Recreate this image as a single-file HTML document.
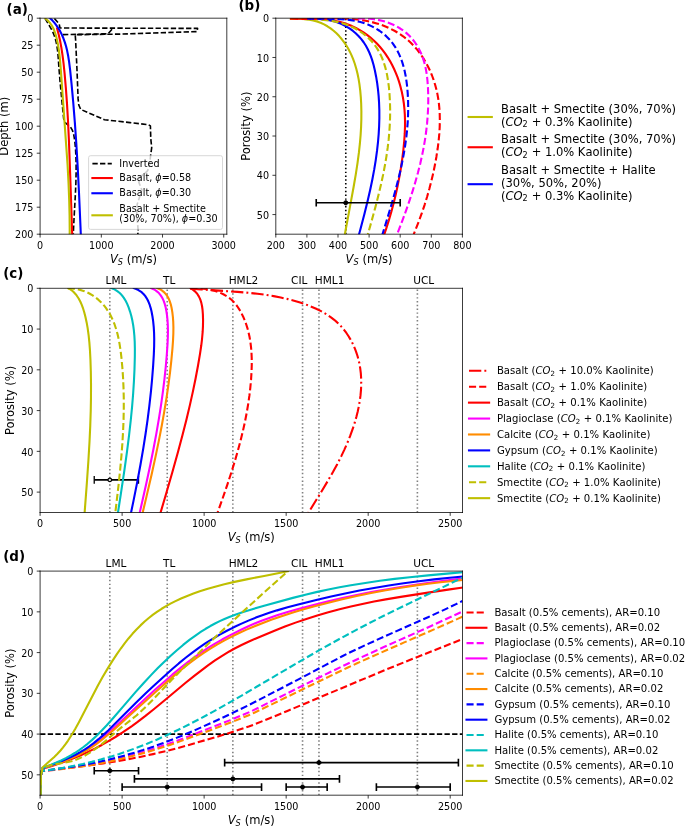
<!DOCTYPE html>
<html><head><meta charset="utf-8"><title>Figure</title>
<style>html,body{margin:0;padding:0;background:#fff}svg{display:block}</style></head>
<body>
<svg width="685" height="826" viewBox="0 0 685 826">
 <defs>
  <style type="text/css">*{stroke-linejoin: round; stroke-linecap: butt}</style>
 </defs>
 <g id="figure_1">
  <g id="patch_1">
   <path d="M 0 826 
L 685 826 
L 685 0 
L 0 0 
z
" style="fill: #ffffff"/>
  </g>
  <g id="axes_1">
   <g id="patch_2">
    <path d="M 40.1 234.2 
L 226.8 234.2 
L 226.8 18.2 
L 40.1 18.2 
z
" style="fill: #ffffff"/>
   </g>
   <g id="matplotlib.axis_1">
    <g id="xtick_1">
     <g id="line2d_1">
      <g>
       <path d="M 0 0 L 0 3.36" transform="translate(40.1 234.2)" style="stroke: #000000; stroke-width: 0.768"/>
      </g>
     </g>
     <g id="text_1">
      <text style="font-size: 9.6px; font-family: 'DejaVu Sans', 'Liberation Sans', sans-serif; text-anchor: middle" x="40.1" y="249.114" transform="rotate(-0 40.1 249.114)">0</text>
     </g>
    </g>
    <g id="xtick_2">
     <g id="line2d_2">
      <g>
       <path d="M 0 0 L 0 3.36" transform="translate(101.313 234.2)" style="stroke: #000000; stroke-width: 0.768"/>
      </g>
     </g>
     <g id="text_2">
      <text style="font-size: 9.6px; font-family: 'DejaVu Sans', 'Liberation Sans', sans-serif; text-anchor: middle" x="101.313" y="249.114" transform="rotate(-0 101.313 249.114)">1000</text>
     </g>
    </g>
    <g id="xtick_3">
     <g id="line2d_3">
      <g>
       <path d="M 0 0 L 0 3.36" transform="translate(162.526 234.2)" style="stroke: #000000; stroke-width: 0.768"/>
      </g>
     </g>
     <g id="text_3">
      <text style="font-size: 9.6px; font-family: 'DejaVu Sans', 'Liberation Sans', sans-serif; text-anchor: middle" x="162.526" y="249.114" transform="rotate(-0 162.526 249.114)">2000</text>
     </g>
    </g>
    <g id="xtick_4">
     <g id="line2d_4">
      <g>
       <path d="M 0 0 L 0 3.36" transform="translate(223.739 234.2)" style="stroke: #000000; stroke-width: 0.768"/>
      </g>
     </g>
     <g id="text_4">
      <text style="font-size: 9.6px; font-family: 'DejaVu Sans', 'Liberation Sans', sans-serif; text-anchor: middle" x="223.739" y="249.114" transform="rotate(-0 223.739 249.114)">3000</text>
     </g>
    </g>
    <g id="text_5">
     <g transform="translate(109.891 263.504)">
      <text><tspan x="0.00" y="-0.89" style="font-style: oblique; font-size: 11.52px; font-family: 'DejaVu Sans', 'Liberation Sans', sans-serif">V</tspan><tspan x="7.87" y="1.08" style="font-style: oblique; font-size: 8.064px; font-family: 'DejaVu Sans', 'Liberation Sans', sans-serif">S</tspan><tspan x="13.30 16.96 21.45 32.65 36.52 42.52" y="-0.89" style="font-size: 11.52px; font-family: 'DejaVu Sans', 'Liberation Sans', sans-serif"> (m/s)</tspan></text>
     </g>
    </g>
   </g>
   <g id="matplotlib.axis_2">
    <g id="ytick_1">
     <g id="line2d_5">
      <g>
       <path d="M 0 0 L -3.36 0" transform="translate(40.1 18.2)" style="stroke: #000000; stroke-width: 0.768"/>
      </g>
     </g>
     <g id="text_6">
      <text style="font-size: 9.6px; font-family: 'DejaVu Sans', 'Liberation Sans', sans-serif; text-anchor: end" x="33.38" y="22.347" transform="rotate(-0 33.38 22.347)">0</text>
     </g>
    </g>
    <g id="ytick_2">
     <g id="line2d_6">
      <g>
       <path d="M 0 0 L -3.36 0" transform="translate(40.1 45.2)" style="stroke: #000000; stroke-width: 0.768"/>
      </g>
     </g>
     <g id="text_7">
      <text style="font-size: 9.6px; font-family: 'DejaVu Sans', 'Liberation Sans', sans-serif; text-anchor: end" x="33.38" y="49.347" transform="rotate(-0 33.38 49.347)">25</text>
     </g>
    </g>
    <g id="ytick_3">
     <g id="line2d_7">
      <g>
       <path d="M 0 0 L -3.36 0" transform="translate(40.1 72.2)" style="stroke: #000000; stroke-width: 0.768"/>
      </g>
     </g>
     <g id="text_8">
      <text style="font-size: 9.6px; font-family: 'DejaVu Sans', 'Liberation Sans', sans-serif; text-anchor: end" x="33.38" y="76.347" transform="rotate(-0 33.38 76.347)">50</text>
     </g>
    </g>
    <g id="ytick_4">
     <g id="line2d_8">
      <g>
       <path d="M 0 0 L -3.36 0" transform="translate(40.1 99.2)" style="stroke: #000000; stroke-width: 0.768"/>
      </g>
     </g>
     <g id="text_9">
      <text style="font-size: 9.6px; font-family: 'DejaVu Sans', 'Liberation Sans', sans-serif; text-anchor: end" x="33.38" y="103.347" transform="rotate(-0 33.38 103.347)">75</text>
     </g>
    </g>
    <g id="ytick_5">
     <g id="line2d_9">
      <g>
       <path d="M 0 0 L -3.36 0" transform="translate(40.1 126.2)" style="stroke: #000000; stroke-width: 0.768"/>
      </g>
     </g>
     <g id="text_10">
      <text style="font-size: 9.6px; font-family: 'DejaVu Sans', 'Liberation Sans', sans-serif; text-anchor: end" x="33.38" y="130.347" transform="rotate(-0 33.38 130.347)">100</text>
     </g>
    </g>
    <g id="ytick_6">
     <g id="line2d_10">
      <g>
       <path d="M 0 0 L -3.36 0" transform="translate(40.1 153.2)" style="stroke: #000000; stroke-width: 0.768"/>
      </g>
     </g>
     <g id="text_11">
      <text style="font-size: 9.6px; font-family: 'DejaVu Sans', 'Liberation Sans', sans-serif; text-anchor: end" x="33.38" y="157.347" transform="rotate(-0 33.38 157.347)">125</text>
     </g>
    </g>
    <g id="ytick_7">
     <g id="line2d_11">
      <g>
       <path d="M 0 0 L -3.36 0" transform="translate(40.1 180.2)" style="stroke: #000000; stroke-width: 0.768"/>
      </g>
     </g>
     <g id="text_12">
      <text style="font-size: 9.6px; font-family: 'DejaVu Sans', 'Liberation Sans', sans-serif; text-anchor: end" x="33.38" y="184.347" transform="rotate(-0 33.38 184.347)">150</text>
     </g>
    </g>
    <g id="ytick_8">
     <g id="line2d_12">
      <g>
       <path d="M 0 0 L -3.36 0" transform="translate(40.1 207.2)" style="stroke: #000000; stroke-width: 0.768"/>
      </g>
     </g>
     <g id="text_13">
      <text style="font-size: 9.6px; font-family: 'DejaVu Sans', 'Liberation Sans', sans-serif; text-anchor: end" x="33.38" y="211.347" transform="rotate(-0 33.38 211.347)">175</text>
     </g>
    </g>
    <g id="ytick_9">
     <g id="line2d_13">
      <g>
       <path d="M 0 0 L -3.36 0" transform="translate(40.1 234.2)" style="stroke: #000000; stroke-width: 0.768"/>
      </g>
     </g>
     <g id="text_14">
      <text style="font-size: 9.6px; font-family: 'DejaVu Sans', 'Liberation Sans', sans-serif; text-anchor: end" x="33.38" y="238.347" transform="rotate(-0 33.38 238.347)">200</text>
     </g>
    </g>
    <g id="text_15">
     <text style="font-size: 11.52px; font-family: 'DejaVu Sans', 'Liberation Sans', sans-serif; text-anchor: middle" x="8.220" y="126.2" transform="rotate(-90 8.220 126.2)">Depth (m)</text>
    </g>
   </g>
   <g id="line2d_14">
    <path d="M 54.4 18.5 
L 59.2 23.9 
L 59.9 27.7 
L 60.4 28 
L 197.6 28.4 
L 197 31.6 
L 120 34.1 
L 75.2 34.7 
L 75.6 40 
L 77 70 
L 78.1 98.9 
L 78.8 105 
L 80.7 109.4 
L 104.4 119.7 
L 130 122.6 
L 148.5 124.8 
L 150.4 125.9 
L 150.8 138.9 
L 151.7 147.6 
L 150.5 156.3 
L 149.1 168 
L 146.9 171.6 
L 140.3 176.7 
L 138.9 182.5 
L 141.8 189.8 
L 139.6 197 
L 137.2 204.3 
L 136.7 214.5 
L 138.2 230.5 
L 137.8 234.2 
" clip-path="url(#p435b3e391e)" style="fill: none; stroke-dasharray: 5.33,2.3; stroke-dashoffset: 0; stroke: #000000; stroke-width: 1.62"/>
   </g>
   <g id="line2d_15">
    <path d="M 63 34.6 
L 108 33.8 
L 112.6 28.6 
" clip-path="url(#p435b3e391e)" style="fill: none; stroke-dasharray: 5.33,2.3; stroke-dashoffset: 0; stroke: #000000; stroke-width: 1.62"/>
   </g>
   <g id="line2d_16">
    <path d="M 45.172 18.514 
L 47.385 22.395 
L 51.354 29.185 
L 52.861 32.166 
L 54.139 35.225 
L 55.190 38.359 
L 56.042 41.558 
L 56.917 45.910 
L 57.551 50.339 
L 58.105 55.949 
L 58.977 68.377 
L 60.085 81.834 
L 62.101 103.035 
L 63.670 118.657 
L 64.226 120.681 
L 64.647 121.603 
L 65.190 122.446 
L 66.625 123.916 
L 69.927 126.654 
L 71.266 128.288 
L 72.297 130.155 
L 73.077 132.206 
L 73.659 134.387 
L 74.283 137.792 
L 75.023 143.486 
L 75.532 149.121 
L 75.905 155.839 
L 76.109 163.665 
L 76.111 172.616 
L 75.877 182.692 
L 75.349 195.013 
L 74.038 218.534 
L 73.340 233.081 
L 73.298 234.199 
L 73.298 234.199 
" clip-path="url(#p435b3e391e)" style="fill: none; stroke-dasharray: 5.33,2.3; stroke-dashoffset: 0; stroke: #000000; stroke-width: 1.62"/>
   </g>
   <g id="line2d_17">
    <path d="M 57.097 28.462 
L 58.678 34.469 
L 60.034 40.522 
L 61.366 47.635 
L 62.472 54.793 
L 63.517 63.016 
L 64.590 73.336 
L 65.850 87.819 
L 66.974 103.363 
L 67.955 119.966 
L 68.890 139.704 
L 69.789 163.612 
L 72.207 234.176 
L 72.207 234.176 
" clip-path="url(#p435b3e391e)" style="fill: none; stroke: #ff0000; stroke-width: 2.1; stroke-linecap: square"/>
   </g>
   <g id="line2d_18">
    <path d="M 50.072 18.154 
L 52.511 20.613 
L 54.732 23.174 
L 56.748 25.829 
L 58.571 28.573 
L 60.212 31.400 
L 61.684 34.305 
L 63.403 38.287 
L 64.870 42.382 
L 66.113 46.574 
L 67.161 50.851 
L 68.238 56.294 
L 69.109 61.819 
L 70.085 69.638 
L 71.475 83.087 
L 73.219 102.058 
L 74.822 122.060 
L 76.279 143.116 
L 77.659 166.365 
L 79.009 192.969 
L 80.522 227.510 
L 80.799 234.231 
L 80.799 234.231 
" clip-path="url(#p435b3e391e)" style="fill: none; stroke: #0000ff; stroke-width: 2.1; stroke-linecap: square"/>
   </g>
   <g id="line2d_19">
    <path d="M 45.063 18.317 
L 46.913 19.791 
L 48.558 21.372 
L 50.014 23.052 
L 51.296 24.820 
L 52.422 26.667 
L 53.852 29.565 
L 55.020 32.587 
L 55.982 35.702 
L 57.037 39.942 
L 58.113 45.315 
L 58.967 50.752 
L 59.761 57.341 
L 60.462 65.089 
L 61.741 82.861 
L 67.544 164.503 
L 68.532 183.243 
L 69.185 199.814 
L 69.568 215.323 
L 69.695 229.774 
L 69.686 234.232 
L 69.686 234.232 
" clip-path="url(#p435b3e391e)" style="fill: none; stroke: #bfbf00; stroke-width: 2.1; stroke-linecap: square"/>
   </g>
   <g id="patch_3">
    <path d="M 40.1 234.2 
L 40.1 18.2 
" style="fill: none; stroke: #000000; stroke-width: 0.768; stroke-linejoin: miter; stroke-linecap: square"/>
   </g>
   <g id="patch_4">
    <path d="M 226.8 234.2 
L 226.8 18.2 
" style="fill: none; stroke: #000000; stroke-width: 0.768; stroke-linejoin: miter; stroke-linecap: square"/>
   </g>
   <g id="patch_5">
    <path d="M 40.1 234.2 
L 226.8 234.2 
" style="fill: none; stroke: #000000; stroke-width: 0.768; stroke-linejoin: miter; stroke-linecap: square"/>
   </g>
   <g id="patch_6">
    <path d="M 40.1 18.2 
L 226.8 18.2 
" style="fill: none; stroke: #000000; stroke-width: 0.768; stroke-linejoin: miter; stroke-linecap: square"/>
   </g>
  </g>
  <g id="axes_2">
   <g id="patch_7">
    <path d="M 275.8 234.2 
L 462.4 234.2 
L 462.4 18.2 
L 275.8 18.2 
z
" style="fill: #ffffff"/>
   </g>
   <g id="matplotlib.axis_3">
    <g id="xtick_5">
     <g id="line2d_20">
      <g>
       <path d="M 0 0 L 0 3.36" transform="translate(275.8 234.2)" style="stroke: #000000; stroke-width: 0.768"/>
      </g>
     </g>
     <g id="text_16">
      <text style="font-size: 9.6px; font-family: 'DejaVu Sans', 'Liberation Sans', sans-serif; text-anchor: middle" x="275.8" y="249.114" transform="rotate(-0 275.8 249.114)">200</text>
     </g>
    </g>
    <g id="xtick_6">
     <g id="line2d_21">
      <g>
       <path d="M 0 0 L 0 3.36" transform="translate(306.9 234.2)" style="stroke: #000000; stroke-width: 0.768"/>
      </g>
     </g>
     <g id="text_17">
      <text style="font-size: 9.6px; font-family: 'DejaVu Sans', 'Liberation Sans', sans-serif; text-anchor: middle" x="306.9" y="249.114" transform="rotate(-0 306.9 249.114)">300</text>
     </g>
    </g>
    <g id="xtick_7">
     <g id="line2d_22">
      <g>
       <path d="M 0 0 L 0 3.36" transform="translate(338 234.2)" style="stroke: #000000; stroke-width: 0.768"/>
      </g>
     </g>
     <g id="text_18">
      <text style="font-size: 9.6px; font-family: 'DejaVu Sans', 'Liberation Sans', sans-serif; text-anchor: middle" x="338" y="249.114" transform="rotate(-0 338 249.114)">400</text>
     </g>
    </g>
    <g id="xtick_8">
     <g id="line2d_23">
      <g>
       <path d="M 0 0 L 0 3.36" transform="translate(369.1 234.2)" style="stroke: #000000; stroke-width: 0.768"/>
      </g>
     </g>
     <g id="text_19">
      <text style="font-size: 9.6px; font-family: 'DejaVu Sans', 'Liberation Sans', sans-serif; text-anchor: middle" x="369.1" y="249.114" transform="rotate(-0 369.1 249.114)">500</text>
     </g>
    </g>
    <g id="xtick_9">
     <g id="line2d_24">
      <g>
       <path d="M 0 0 L 0 3.36" transform="translate(400.2 234.2)" style="stroke: #000000; stroke-width: 0.768"/>
      </g>
     </g>
     <g id="text_20">
      <text style="font-size: 9.6px; font-family: 'DejaVu Sans', 'Liberation Sans', sans-serif; text-anchor: middle" x="400.2" y="249.114" transform="rotate(-0 400.2 249.114)">600</text>
     </g>
    </g>
    <g id="xtick_10">
     <g id="line2d_25">
      <g>
       <path d="M 0 0 L 0 3.36" transform="translate(431.3 234.2)" style="stroke: #000000; stroke-width: 0.768"/>
      </g>
     </g>
     <g id="text_21">
      <text style="font-size: 9.6px; font-family: 'DejaVu Sans', 'Liberation Sans', sans-serif; text-anchor: middle" x="431.3" y="249.114" transform="rotate(-0 431.3 249.114)">700</text>
     </g>
    </g>
    <g id="xtick_11">
     <g id="line2d_26">
      <g>
       <path d="M 0 0 L 0 3.36" transform="translate(462.4 234.2)" style="stroke: #000000; stroke-width: 0.768"/>
      </g>
     </g>
     <g id="text_22">
      <text style="font-size: 9.6px; font-family: 'DejaVu Sans', 'Liberation Sans', sans-serif; text-anchor: middle" x="462.4" y="249.114" transform="rotate(-0 462.4 249.114)">800</text>
     </g>
    </g>
    <g id="text_23">
     <g transform="translate(345.541 263.504)">
      <text><tspan x="0.00" y="-0.89" style="font-style: oblique; font-size: 11.52px; font-family: 'DejaVu Sans', 'Liberation Sans', sans-serif">V</tspan><tspan x="7.87" y="1.08" style="font-style: oblique; font-size: 8.064px; font-family: 'DejaVu Sans', 'Liberation Sans', sans-serif">S</tspan><tspan x="13.30 16.96 21.45 32.65 36.52 42.52" y="-0.89" style="font-size: 11.52px; font-family: 'DejaVu Sans', 'Liberation Sans', sans-serif"> (m/s)</tspan></text>
     </g>
    </g>
   </g>
   <g id="matplotlib.axis_4">
    <g id="ytick_10">
     <g id="line2d_27">
      <g>
       <path d="M 0 0 L -3.36 0" transform="translate(275.8 18.2)" style="stroke: #000000; stroke-width: 0.768"/>
      </g>
     </g>
     <g id="text_24">
      <text style="font-size: 9.6px; font-family: 'DejaVu Sans', 'Liberation Sans', sans-serif; text-anchor: end" x="269.08" y="22.347" transform="rotate(-0 269.08 22.347)">0</text>
     </g>
    </g>
    <g id="ytick_11">
     <g id="line2d_28">
      <g>
       <path d="M 0 0 L -3.36 0" transform="translate(275.8 57.472)" style="stroke: #000000; stroke-width: 0.768"/>
      </g>
     </g>
     <g id="text_25">
      <text style="font-size: 9.6px; font-family: 'DejaVu Sans', 'Liberation Sans', sans-serif; text-anchor: end" x="269.08" y="61.619" transform="rotate(-0 269.08 61.619)">10</text>
     </g>
    </g>
    <g id="ytick_12">
     <g id="line2d_29">
      <g>
       <path d="M 0 0 L -3.36 0" transform="translate(275.8 96.745)" style="stroke: #000000; stroke-width: 0.768"/>
      </g>
     </g>
     <g id="text_26">
      <text style="font-size: 9.6px; font-family: 'DejaVu Sans', 'Liberation Sans', sans-serif; text-anchor: end" x="269.08" y="100.892" transform="rotate(-0 269.08 100.892)">20</text>
     </g>
    </g>
    <g id="ytick_13">
     <g id="line2d_30">
      <g>
       <path d="M 0 0 L -3.36 0" transform="translate(275.8 136.018)" style="stroke: #000000; stroke-width: 0.768"/>
      </g>
     </g>
     <g id="text_27">
      <text style="font-size: 9.6px; font-family: 'DejaVu Sans', 'Liberation Sans', sans-serif; text-anchor: end" x="269.08" y="140.165" transform="rotate(-0 269.08 140.165)">30</text>
     </g>
    </g>
    <g id="ytick_14">
     <g id="line2d_31">
      <g>
       <path d="M 0 0 L -3.36 0" transform="translate(275.8 175.290)" style="stroke: #000000; stroke-width: 0.768"/>
      </g>
     </g>
     <g id="text_28">
      <text style="font-size: 9.6px; font-family: 'DejaVu Sans', 'Liberation Sans', sans-serif; text-anchor: end" x="269.08" y="179.438" transform="rotate(-0 269.08 179.438)">40</text>
     </g>
    </g>
    <g id="ytick_15">
     <g id="line2d_32">
      <g>
       <path d="M 0 0 L -3.36 0" transform="translate(275.8 214.563)" style="stroke: #000000; stroke-width: 0.768"/>
      </g>
     </g>
     <g id="text_29">
      <text style="font-size: 9.6px; font-family: 'DejaVu Sans', 'Liberation Sans', sans-serif; text-anchor: end" x="269.08" y="218.710" transform="rotate(-0 269.08 218.710)">50</text>
     </g>
    </g>
    <g id="text_30">
     <text style="font-size: 11.52px; font-family: 'DejaVu Sans', 'Liberation Sans', sans-serif; text-anchor: middle" x="250.028" y="126.2" transform="rotate(-90 250.028 126.2)">Porosity (%)</text>
    </g>
   </g>
   <g id="line2d_33">
    <path d="M 345.775 234.2 
L 345.775 18.2 
" clip-path="url(#p7016a4e652)" style="fill: none; stroke-dasharray: 1.44,2.38; stroke-dashoffset: 0; stroke: #000000; stroke-width: 1.62"/>
   </g>
   <g id="line2d_34">
    <path d="M 290.875 18.645 
L 296.099 18.576 
L 301.393 18.757 
L 305.363 19.097 
L 309.299 19.641 
L 313.168 20.417 
L 316.939 21.453 
L 320.581 22.775 
L 324.075 24.388 
L 327.414 26.273 
L 330.597 28.408 
L 333.618 30.772 
L 336.474 33.342 
L 339.160 36.097 
L 341.674 39.015 
L 344.011 42.075 
L 346.167 45.255 
L 348.143 48.539 
L 349.945 51.917 
L 351.580 55.383 
L 353.057 58.928 
L 354.794 63.767 
L 356.281 68.716 
L 357.536 73.759 
L 358.578 78.877 
L 359.425 84.053 
L 360.237 90.577 
L 360.809 97.129 
L 361.175 103.675 
L 361.378 111.494 
L 361.344 119.277 
L 361.089 127.026 
L 360.634 134.747 
L 359.873 143.723 
L 358.893 152.670 
L 357.543 162.870 
L 355.783 174.323 
L 353.602 187.035 
L 350.068 206.119 
L 345.088 232.970 
L 344.862 234.255 
L 344.862 234.255 
" clip-path="url(#p7016a4e652)" style="fill: none; stroke: #bfbf00; stroke-width: 2.1; stroke-linecap: square"/>
   </g>
   <g id="line2d_35">
    <path d="M 290.967 18.583 
L 307.015 18.496 
L 314.480 18.671 
L 320.464 19.000 
L 326.423 19.552 
L 330.854 20.141 
L 335.237 20.905 
L 339.557 21.863 
L 343.800 23.036 
L 347.952 24.445 
L 352.003 26.091 
L 355.945 27.965 
L 359.770 30.059 
L 363.471 32.363 
L 367.041 34.870 
L 370.471 37.570 
L 373.754 40.454 
L 376.882 43.514 
L 379.847 46.740 
L 382.645 50.124 
L 385.272 53.654 
L 387.731 57.318 
L 390.021 61.103 
L 392.144 64.997 
L 394.098 68.989 
L 395.886 73.065 
L 397.507 77.214 
L 398.963 81.423 
L 400.253 85.681 
L 401.716 91.413 
L 402.889 97.182 
L 403.785 102.977 
L 404.425 108.794 
L 404.827 114.629 
L 405.013 120.478 
L 405.001 126.338 
L 404.737 133.669 
L 404.234 141.002 
L 403.368 149.791 
L 402.277 158.557 
L 400.767 168.741 
L 399.269 177.431 
L 397.581 186.082 
L 395.700 194.689 
L 393.625 203.250 
L 391.353 211.763 
L 388.882 220.223 
L 386.210 228.628 
L 384.316 234.199 
L 384.316 234.199 
" clip-path="url(#p7016a4e652)" style="fill: none; stroke: #ff0000; stroke-width: 2.1; stroke-linecap: square"/>
   </g>
   <g id="line2d_36">
    <path d="M 306.953 18.570 
L 313.451 18.609 
L 318.751 18.863 
L 324.069 19.381 
L 328.032 19.981 
L 331.943 20.791 
L 335.774 21.837 
L 339.499 23.145 
L 343.096 24.723 
L 346.553 26.560 
L 349.857 28.641 
L 352.996 30.954 
L 355.956 33.484 
L 358.725 36.219 
L 361.291 39.146 
L 363.641 42.250 
L 365.761 45.518 
L 367.650 48.936 
L 369.322 52.484 
L 370.798 56.141 
L 372.096 59.889 
L 373.582 64.992 
L 374.830 70.174 
L 376.123 76.689 
L 377.178 83.194 
L 378.011 89.691 
L 378.636 96.188 
L 379.065 102.692 
L 379.334 110.507 
L 379.349 118.332 
L 379.126 126.161 
L 378.677 133.991 
L 378.019 141.819 
L 377.006 150.942 
L 375.749 160.052 
L 374.273 169.141 
L 372.347 179.495 
L 370.200 189.807 
L 367.561 201.345 
L 364.411 214.072 
L 360.420 229.193 
L 359.058 234.192 
L 359.058 234.192 
" clip-path="url(#p7016a4e652)" style="fill: none; stroke: #0000ff; stroke-width: 2.1; stroke-linecap: square"/>
   </g>
   <g id="line2d_37">
    <path d="M 291.019 18.470 
L 297.827 18.783 
L 318.033 19.513 
L 323.930 19.968 
L 329.803 20.653 
L 334.166 21.358 
L 338.473 22.258 
L 342.706 23.380 
L 346.846 24.753 
L 350.874 26.390 
L 354.772 28.281 
L 358.520 30.418 
L 362.097 32.791 
L 365.484 35.390 
L 368.661 38.204 
L 371.609 41.225 
L 374.308 44.442 
L 376.739 47.845 
L 378.904 51.420 
L 380.819 55.152 
L 382.499 59.022 
L 383.961 63.016 
L 385.222 67.116 
L 386.296 71.306 
L 387.200 75.570 
L 388.170 81.339 
L 388.905 87.171 
L 389.552 94.487 
L 389.954 101.777 
L 390.132 109.029 
L 390.098 116.246 
L 389.862 123.431 
L 389.434 130.585 
L 388.684 139.133 
L 387.692 147.643 
L 386.479 156.120 
L 385.061 164.567 
L 383.174 174.389 
L 381.066 184.181 
L 378.422 195.344 
L 375.201 207.876 
L 371.392 221.783 
L 367.825 234.296 
L 367.825 234.296 
" clip-path="url(#p7016a4e652)" style="fill: none; stroke-dasharray: 7.1,3.07; stroke-dashoffset: 0; stroke: #bfbf00; stroke-width: 2.1"/>
   </g>
   <g id="line2d_38">
    <path d="M 291.051 18.523 
L 297.290 18.847 
L 303.670 18.961 
L 313.457 18.868 
L 336.906 18.467 
L 343.662 18.575 
L 350.402 18.891 
L 357.103 19.476 
L 362.091 20.127 
L 367.034 20.988 
L 371.920 22.075 
L 376.733 23.391 
L 381.456 24.940 
L 386.071 26.723 
L 390.561 28.745 
L 394.908 31.007 
L 399.097 33.512 
L 403.109 36.263 
L 406.927 39.262 
L 410.541 42.506 
L 413.947 45.979 
L 417.145 49.664 
L 420.133 53.543 
L 422.912 57.600 
L 425.480 61.817 
L 427.836 66.177 
L 429.979 70.663 
L 431.909 75.257 
L 433.624 79.943 
L 435.123 84.704 
L 436.406 89.522 
L 437.472 94.381 
L 438.326 99.268 
L 438.977 104.179 
L 439.438 109.109 
L 439.720 114.056 
L 439.838 120.668 
L 439.685 127.290 
L 439.289 133.912 
L 438.676 140.524 
L 437.647 148.759 
L 436.375 156.944 
L 434.899 165.065 
L 433.225 173.124 
L 431.357 181.123 
L 429.297 189.067 
L 427.049 196.957 
L 424.616 204.798 
L 422.001 212.593 
L 418.627 221.889 
L 415.000 231.128 
L 413.736 234.196 
L 413.736 234.196 
" clip-path="url(#p7016a4e652)" style="fill: none; stroke-dasharray: 7.1,3.07; stroke-dashoffset: 0; stroke: #ff0000; stroke-width: 2.1"/>
   </g>
   <g id="line2d_39">
    <path d="M 307.020 18.503 
L 312.484 18.708 
L 321.028 18.790 
L 334.339 18.902 
L 340.333 19.138 
L 346.315 19.594 
L 350.766 20.126 
L 355.167 20.855 
L 359.500 21.812 
L 363.747 23.030 
L 367.888 24.536 
L 371.902 26.334 
L 375.767 28.410 
L 379.457 30.749 
L 382.950 33.339 
L 386.223 36.164 
L 389.251 39.211 
L 391.122 41.358 
L 392.869 43.592 
L 395.262 47.099 
L 397.394 50.775 
L 399.282 54.604 
L 400.940 58.570 
L 402.382 62.654 
L 403.624 66.840 
L 404.680 71.112 
L 405.566 75.452 
L 406.508 81.316 
L 407.209 87.231 
L 407.704 93.157 
L 408.075 100.537 
L 408.189 107.880 
L 408.060 115.189 
L 407.701 122.465 
L 407.126 129.709 
L 406.349 136.924 
L 405.169 145.544 
L 403.743 154.127 
L 402.094 162.674 
L 400.246 171.190 
L 397.870 181.087 
L 394.912 192.355 
L 391.342 204.984 
L 386.745 220.364 
L 382.459 234.307 
L 382.459 234.307 
" clip-path="url(#p7016a4e652)" style="fill: none; stroke-dasharray: 7.1,3.07; stroke-dashoffset: 0; stroke: #0000ff; stroke-width: 2.1"/>
   </g>
   <g id="line2d_40">
    <path d="M 357.793 18.765 
L 361.824 18.525 
L 365.877 18.515 
L 369.934 18.734 
L 373.976 19.179 
L 377.984 19.849 
L 381.938 20.743 
L 385.819 21.859 
L 389.609 23.196 
L 393.288 24.751 
L 396.837 26.524 
L 400.237 28.513 
L 403.469 30.716 
L 406.514 33.131 
L 409.353 35.757 
L 411.975 38.587 
L 414.381 41.603 
L 416.572 44.789 
L 418.551 48.127 
L 420.317 51.601 
L 421.874 55.194 
L 423.222 58.888 
L 424.367 62.667 
L 425.324 66.518 
L 426.110 70.429 
L 426.923 75.717 
L 427.505 81.059 
L 427.971 87.770 
L 428.214 94.471 
L 428.262 101.145 
L 428.122 107.793 
L 427.714 115.736 
L 427.058 123.641 
L 426.164 131.510 
L 425.047 139.342 
L 423.717 147.137 
L 422.187 154.895 
L 420.166 163.901 
L 417.909 172.858 
L 415.435 181.767 
L 412.764 190.627 
L 409.495 200.694 
L 406.022 210.699 
L 401.910 221.881 
L 397.132 234.216 
L 397.132 234.216 
" clip-path="url(#p7016a4e652)" style="fill: none; stroke-dasharray: 7.1,3.07; stroke-dashoffset: 0; stroke: #ff00ff; stroke-width: 2.1"/>
   </g>
   <g id="LineCollection_1">
    <path d="M 316.23 202.781 
L 400.2 202.781 
" clip-path="url(#p7016a4e652)" style="fill: none; stroke: #000000; stroke-width: 1.62"/>
   </g>
   <g id="line2d_41">
    <g clip-path="url(#p7016a4e652)">
     <path d="M 0 3.84 L 0 -3.84" transform="translate(316.23 202.781)" style="stroke: #000000; stroke-width: 1.62"/>
    </g>
   </g>
   <g id="line2d_42">
    <g clip-path="url(#p7016a4e652)">
     <path d="M 0 3.84 L 0 -3.84" transform="translate(400.2 202.781)" style="stroke: #000000; stroke-width: 1.62"/>
    </g>
   </g>
   <g id="line2d_43">
    <g clip-path="url(#p7016a4e652)">
     <path d="M 0 2.1 C 0.556 2.1 1.091 1.878 1.484 1.484 C 1.878 1.091 2.1 0.556 2.1 0 C 2.1 -0.556 1.878 -1.091 1.484 -1.484 C 1.091 -1.878 0.556 -2.1 0 -2.1 C -0.556 -2.1 -1.091 -1.878 -1.484 -1.484 C -1.878 -1.091 -2.1 -0.556 -2.1 0 C -2.1 0.556 -1.878 1.091 -1.484 1.484 C -1.091 1.878 -0.556 2.1 0 2.1 z" transform="translate(345.775 202.781)" style="stroke: #000000"/>
    </g>
   </g>
   <g id="patch_8">
    <path d="M 275.8 234.2 
L 275.8 18.2 
" style="fill: none; stroke: #000000; stroke-width: 0.768; stroke-linejoin: miter; stroke-linecap: square"/>
   </g>
   <g id="patch_9">
    <path d="M 462.4 234.2 
L 462.4 18.2 
" style="fill: none; stroke: #000000; stroke-width: 0.768; stroke-linejoin: miter; stroke-linecap: square"/>
   </g>
   <g id="patch_10">
    <path d="M 275.8 234.2 
L 462.4 234.2 
" style="fill: none; stroke: #000000; stroke-width: 0.768; stroke-linejoin: miter; stroke-linecap: square"/>
   </g>
   <g id="patch_11">
    <path d="M 275.8 18.2 
L 462.4 18.2 
" style="fill: none; stroke: #000000; stroke-width: 0.768; stroke-linejoin: miter; stroke-linecap: square"/>
   </g>
  </g>
  <g id="axes_3">
   <g id="patch_12">
    <path d="M 40.1 512.5 
L 462.5 512.5 
L 462.5 288.3 
L 40.1 288.3 
z
" style="fill: #ffffff"/>
   </g>
   <g id="matplotlib.axis_5">
    <g id="xtick_12">
     <g id="line2d_44">
      <g>
       <path d="M 0 0 L 0 3.36" transform="translate(40.1 512.5)" style="stroke: #000000; stroke-width: 0.768"/>
      </g>
     </g>
     <g id="text_31">
      <text style="font-size: 9.6px; font-family: 'DejaVu Sans', 'Liberation Sans', sans-serif; text-anchor: middle" x="40.1" y="527.414" transform="rotate(-0 40.1 527.414)">0</text>
     </g>
    </g>
    <g id="xtick_13">
     <g id="line2d_45">
      <g>
       <path d="M 0 0 L 0 3.36" transform="translate(122.119 512.5)" style="stroke: #000000; stroke-width: 0.768"/>
      </g>
     </g>
     <g id="text_32">
      <text style="font-size: 9.6px; font-family: 'DejaVu Sans', 'Liberation Sans', sans-serif; text-anchor: middle" x="122.119" y="527.414" transform="rotate(-0 122.119 527.414)">500</text>
     </g>
    </g>
    <g id="xtick_14">
     <g id="line2d_46">
      <g>
       <path d="M 0 0 L 0 3.36" transform="translate(204.138 512.5)" style="stroke: #000000; stroke-width: 0.768"/>
      </g>
     </g>
     <g id="text_33">
      <text style="font-size: 9.6px; font-family: 'DejaVu Sans', 'Liberation Sans', sans-serif; text-anchor: middle" x="204.138" y="527.414" transform="rotate(-0 204.138 527.414)">1000</text>
     </g>
    </g>
    <g id="xtick_15">
     <g id="line2d_47">
      <g>
       <path d="M 0 0 L 0 3.36" transform="translate(286.158 512.5)" style="stroke: #000000; stroke-width: 0.768"/>
      </g>
     </g>
     <g id="text_34">
      <text style="font-size: 9.6px; font-family: 'DejaVu Sans', 'Liberation Sans', sans-serif; text-anchor: middle" x="286.158" y="527.414" transform="rotate(-0 286.158 527.414)">1500</text>
     </g>
    </g>
    <g id="xtick_16">
     <g id="line2d_48">
      <g>
       <path d="M 0 0 L 0 3.36" transform="translate(368.177 512.5)" style="stroke: #000000; stroke-width: 0.768"/>
      </g>
     </g>
     <g id="text_35">
      <text style="font-size: 9.6px; font-family: 'DejaVu Sans', 'Liberation Sans', sans-serif; text-anchor: middle" x="368.177" y="527.414" transform="rotate(-0 368.177 527.414)">2000</text>
     </g>
    </g>
    <g id="xtick_17">
     <g id="line2d_49">
      <g>
       <path d="M 0 0 L 0 3.36" transform="translate(450.197 512.5)" style="stroke: #000000; stroke-width: 0.768"/>
      </g>
     </g>
     <g id="text_36">
      <text style="font-size: 9.6px; font-family: 'DejaVu Sans', 'Liberation Sans', sans-serif; text-anchor: middle" x="450.197" y="527.414" transform="rotate(-0 450.197 527.414)">2500</text>
     </g>
    </g>
    <g id="text_37">
     <g transform="translate(227.741 541.804)">
      <text><tspan x="0.00" y="-0.89" style="font-style: oblique; font-size: 11.52px; font-family: 'DejaVu Sans', 'Liberation Sans', sans-serif">V</tspan><tspan x="7.87" y="1.08" style="font-style: oblique; font-size: 8.064px; font-family: 'DejaVu Sans', 'Liberation Sans', sans-serif">S</tspan><tspan x="13.30 16.96 21.45 32.65 36.52 42.52" y="-0.89" style="font-size: 11.52px; font-family: 'DejaVu Sans', 'Liberation Sans', sans-serif"> (m/s)</tspan></text>
     </g>
    </g>
   </g>
   <g id="matplotlib.axis_6">
    <g id="ytick_16">
     <g id="line2d_50">
      <g>
       <path d="M 0 0 L -3.36 0" transform="translate(40.1 288.3)" style="stroke: #000000; stroke-width: 0.768"/>
      </g>
     </g>
     <g id="text_38">
      <text style="font-size: 9.6px; font-family: 'DejaVu Sans', 'Liberation Sans', sans-serif; text-anchor: end" x="33.38" y="292.447" transform="rotate(-0 33.38 292.447)">0</text>
     </g>
    </g>
    <g id="ytick_17">
     <g id="line2d_51">
      <g>
       <path d="M 0 0 L -3.36 0" transform="translate(40.1 329.063)" style="stroke: #000000; stroke-width: 0.768"/>
      </g>
     </g>
     <g id="text_39">
      <text style="font-size: 9.6px; font-family: 'DejaVu Sans', 'Liberation Sans', sans-serif; text-anchor: end" x="33.38" y="333.210" transform="rotate(-0 33.38 333.210)">10</text>
     </g>
    </g>
    <g id="ytick_18">
     <g id="line2d_52">
      <g>
       <path d="M 0 0 L -3.36 0" transform="translate(40.1 369.827)" style="stroke: #000000; stroke-width: 0.768"/>
      </g>
     </g>
     <g id="text_40">
      <text style="font-size: 9.6px; font-family: 'DejaVu Sans', 'Liberation Sans', sans-serif; text-anchor: end" x="33.38" y="373.974" transform="rotate(-0 33.38 373.974)">20</text>
     </g>
    </g>
    <g id="ytick_19">
     <g id="line2d_53">
      <g>
       <path d="M 0 0 L -3.36 0" transform="translate(40.1 410.590)" style="stroke: #000000; stroke-width: 0.768"/>
      </g>
     </g>
     <g id="text_41">
      <text style="font-size: 9.6px; font-family: 'DejaVu Sans', 'Liberation Sans', sans-serif; text-anchor: end" x="33.38" y="414.738" transform="rotate(-0 33.38 414.738)">30</text>
     </g>
    </g>
    <g id="ytick_20">
     <g id="line2d_54">
      <g>
       <path d="M 0 0 L -3.36 0" transform="translate(40.1 451.354)" style="stroke: #000000; stroke-width: 0.768"/>
      </g>
     </g>
     <g id="text_42">
      <text style="font-size: 9.6px; font-family: 'DejaVu Sans', 'Liberation Sans', sans-serif; text-anchor: end" x="33.38" y="455.501" transform="rotate(-0 33.38 455.501)">40</text>
     </g>
    </g>
    <g id="ytick_21">
     <g id="line2d_55">
      <g>
       <path d="M 0 0 L -3.36 0" transform="translate(40.1 492.118)" style="stroke: #000000; stroke-width: 0.768"/>
      </g>
     </g>
     <g id="text_43">
      <text style="font-size: 9.6px; font-family: 'DejaVu Sans', 'Liberation Sans', sans-serif; text-anchor: end" x="33.38" y="496.265" transform="rotate(-0 33.38 496.265)">50</text>
     </g>
    </g>
    <g id="text_44">
     <text style="font-size: 11.52px; font-family: 'DejaVu Sans', 'Liberation Sans', sans-serif; text-anchor: middle" x="14.328" y="400.4" transform="rotate(-90 14.328 400.4)">Porosity (%)</text>
    </g>
   </g>
   <g id="LineCollection_2">
    <path d="M 94.232 479.889 
L 138.523 479.889 
" clip-path="url(#p56ecee5111)" style="fill: none; stroke: #000000; stroke-width: 1.62"/>
   </g>
   <g id="line2d_56">
    <g clip-path="url(#p56ecee5111)">
     <path d="M 0 3.84 L 0 -3.84" transform="translate(94.232 479.889)" style="stroke: #000000; stroke-width: 1.3"/>
    </g>
   </g>
   <g id="line2d_57">
    <g clip-path="url(#p56ecee5111)">
     <path d="M 0 3.84 L 0 -3.84" transform="translate(138.523 479.889)" style="stroke: #000000; stroke-width: 1.3"/>
    </g>
   </g>
   <g id="line2d_58">
    <path d="M 109.816 512.5 
L 109.816 288.3 
" clip-path="url(#p56ecee5111)" style="fill: none; stroke-dasharray: 1.44,2.38; stroke-dashoffset: 0; stroke: #808080; stroke-width: 1.62"/>
   </g>
   <g id="line2d_59">
    <path d="M 167.230 512.5 
L 167.230 288.3 
" clip-path="url(#p56ecee5111)" style="fill: none; stroke-dasharray: 1.44,2.38; stroke-dashoffset: 0; stroke: #808080; stroke-width: 1.62"/>
   </g>
   <g id="line2d_60">
    <path d="M 232.845 512.5 
L 232.845 288.3 
" clip-path="url(#p56ecee5111)" style="fill: none; stroke-dasharray: 1.44,2.38; stroke-dashoffset: 0; stroke: #808080; stroke-width: 1.62"/>
   </g>
   <g id="line2d_61">
    <path d="M 302.562 512.5 
L 302.562 288.3 
" clip-path="url(#p56ecee5111)" style="fill: none; stroke-dasharray: 1.44,2.38; stroke-dashoffset: 0; stroke: #808080; stroke-width: 1.62"/>
   </g>
   <g id="line2d_62">
    <path d="M 318.966 512.5 
L 318.966 288.3 
" clip-path="url(#p56ecee5111)" style="fill: none; stroke-dasharray: 1.44,2.38; stroke-dashoffset: 0; stroke: #808080; stroke-width: 1.62"/>
   </g>
   <g id="line2d_63">
    <path d="M 417.389 512.5 
L 417.389 288.3 
" clip-path="url(#p56ecee5111)" style="fill: none; stroke-dasharray: 1.44,2.38; stroke-dashoffset: 0; stroke: #808080; stroke-width: 1.62"/>
   </g>
   <g id="line2d_64">
    <path d="M 190.463 288.592 
L 201.224 289.456 
L 219.301 290.636 
L 237.462 291.859 
L 248.356 292.790 
L 257.411 293.759 
L 266.433 294.962 
L 273.616 296.127 
L 280.762 297.502 
L 287.864 299.115 
L 294.915 300.991 
L 300.165 302.588 
L 305.380 304.361 
L 310.540 306.325 
L 315.608 308.504 
L 320.544 310.919 
L 325.312 313.594 
L 328.376 315.532 
L 331.338 317.601 
L 334.183 319.810 
L 336.903 322.163 
L 339.485 324.666 
L 341.928 327.311 
L 344.230 330.088 
L 346.390 332.985 
L 348.407 335.993 
L 350.278 339.100 
L 352.004 342.297 
L 353.583 345.573 
L 355.013 348.917 
L 356.293 352.319 
L 357.423 355.768 
L 358.400 359.255 
L 359.225 362.769 
L 360.187 368.085 
L 360.831 373.446 
L 361.172 378.844 
L 361.227 384.268 
L 361.010 389.709 
L 360.537 395.158 
L 359.825 400.604 
L 358.887 406.039 
L 357.739 411.452 
L 356.398 416.836 
L 354.879 422.179 
L 352.602 429.224 
L 350.072 436.159 
L 347.326 442.961 
L 344.396 449.615 
L 341.302 456.138 
L 337.224 464.138 
L 332.942 472.009 
L 327.577 481.343 
L 321.070 492.170 
L 308.549 512.484 
L 308.549 512.484 
" clip-path="url(#p56ecee5111)" style="fill: none; stroke-dasharray: 12.3,3.07,1.92,3.07; stroke-dashoffset: 0; stroke: #ff0000; stroke-width: 2.1"/>
   </g>
   <g id="line2d_65">
    <path d="M 190.355 288.651 
L 194.279 288.405 
L 198.299 288.386 
L 202.375 288.606 
L 206.466 289.075 
L 210.530 289.806 
L 214.527 290.808 
L 218.414 292.094 
L 220.925 293.114 
L 223.357 294.268 
L 225.698 295.559 
L 227.935 296.991 
L 230.057 298.567 
L 232.051 300.289 
L 233.910 302.158 
L 235.639 304.156 
L 237.246 306.266 
L 239.444 309.604 
L 241.410 313.094 
L 243.168 316.678 
L 244.734 320.330 
L 246.118 324.043 
L 247.327 327.813 
L 248.370 331.633 
L 249.517 336.798 
L 250.405 342.033 
L 251.053 347.326 
L 251.483 352.665 
L 251.714 358.038 
L 251.754 364.783 
L 251.554 371.539 
L 251.055 379.628 
L 250.327 387.664 
L 249.393 395.644 
L 248.263 403.572 
L 246.712 412.759 
L 244.927 421.887 
L 242.925 430.961 
L 240.726 439.986 
L 237.991 450.250 
L 235.046 460.468 
L 231.514 471.921 
L 227.361 484.606 
L 222.132 499.799 
L 217.628 512.455 
L 217.628 512.455 
" clip-path="url(#p56ecee5111)" style="fill: none; stroke-dasharray: 7.1,3.07; stroke-dashoffset: 0; stroke: #ff0000; stroke-width: 2.1"/>
   </g>
   <g id="line2d_66">
    <path d="M 190.701 288.262 
L 192.805 289.586 
L 194.651 291.071 
L 196.256 292.704 
L 197.638 294.473 
L 198.814 296.363 
L 199.801 298.361 
L 200.616 300.454 
L 201.278 302.627 
L 202.020 306.009 
L 202.513 309.497 
L 202.885 314.233 
L 203.057 320.166 
L 202.972 326.076 
L 202.662 331.967 
L 202.035 339.010 
L 201.181 346.027 
L 199.967 354.184 
L 197.984 365.786 
L 195.586 378.487 
L 192.984 391.130 
L 189.933 404.864 
L 186.405 419.683 
L 182.377 435.584 
L 177.840 452.569 
L 172.475 471.775 
L 165.614 495.468 
L 160.619 512.393 
L 160.619 512.393 
" clip-path="url(#p56ecee5111)" style="fill: none; stroke: #ff0000; stroke-width: 2.1; stroke-linecap: square"/>
   </g>
   <g id="line2d_67">
    <path d="M 151.254 288.200 
L 153.566 289.208 
L 155.629 290.415 
L 157.459 291.805 
L 159.073 293.362 
L 160.487 295.068 
L 161.717 296.908 
L 162.780 298.864 
L 163.692 300.921 
L 164.813 304.160 
L 165.685 307.531 
L 166.365 310.981 
L 167.051 315.624 
L 167.524 320.294 
L 167.806 324.987 
L 167.931 330.875 
L 167.846 336.779 
L 167.536 343.871 
L 166.812 354.487 
L 165.798 366.223 
L 164.454 379.066 
L 162.885 391.846 
L 161.109 404.574 
L 158.952 418.408 
L 156.383 433.348 
L 153.597 448.254 
L 150.150 465.428 
L 146.241 483.742 
L 141.356 505.520 
L 139.772 512.411 
L 139.772 512.411 
" clip-path="url(#p56ecee5111)" style="fill: none; stroke: #ff00ff; stroke-width: 2.1; stroke-linecap: square"/>
   </g>
   <g id="line2d_68">
    <path d="M 157.475 288.189 
L 159.783 289.217 
L 161.833 290.443 
L 163.644 291.853 
L 165.233 293.428 
L 166.617 295.154 
L 167.812 297.012 
L 168.837 298.986 
L 169.707 301.060 
L 170.762 304.320 
L 171.567 307.711 
L 172.351 312.337 
L 172.897 317.001 
L 173.236 321.688 
L 173.408 327.571 
L 173.344 333.473 
L 173.024 340.566 
L 172.419 348.835 
L 171.325 360.598 
L 170.027 372.296 
L 168.379 385.096 
L 166.516 397.835 
L 164.259 411.674 
L 161.792 425.463 
L 158.906 440.359 
L 155.584 456.369 
L 151.560 474.651 
L 146.538 496.375 
L 142.718 512.420 
L 142.718 512.420 
" clip-path="url(#p56ecee5111)" style="fill: none; stroke: #ff8c00; stroke-width: 2.1; stroke-linecap: square"/>
   </g>
   <g id="line2d_69">
    <path d="M 133.867 288.150 
L 136.249 289.002 
L 138.414 290.052 
L 140.374 291.287 
L 142.140 292.691 
L 143.726 294.251 
L 145.142 295.952 
L 146.401 297.781 
L 147.516 299.723 
L 148.497 301.764 
L 149.747 304.982 
L 150.765 308.343 
L 151.593 311.800 
L 152.471 316.478 
L 153.145 321.175 
L 153.737 327.065 
L 154.081 332.969 
L 154.215 338.882 
L 154.147 345.985 
L 153.830 354.269 
L 153.117 366.074 
L 152.113 379.005 
L 150.897 391.886 
L 149.341 405.887 
L 147.561 419.845 
L 145.572 433.768 
L 143.198 448.822 
L 140.409 465.013 
L 137.180 482.351 
L 133.492 500.854 
L 131.075 512.432 
L 131.075 512.432 
" clip-path="url(#p56ecee5111)" style="fill: none; stroke: #0000ff; stroke-width: 2.1; stroke-linecap: square"/>
   </g>
   <g id="line2d_70">
    <path d="M 111.284 288.013 
L 113.577 288.935 
L 115.687 290.045 
L 117.624 291.326 
L 119.398 292.765 
L 121.019 294.348 
L 122.497 296.059 
L 123.842 297.885 
L 125.633 300.807 
L 127.182 303.905 
L 128.523 307.131 
L 130.047 311.549 
L 131.316 316.041 
L 132.353 320.595 
L 133.179 325.203 
L 133.815 329.857 
L 134.374 335.728 
L 134.709 341.643 
L 134.874 348.778 
L 134.826 357.118 
L 134.503 368.989 
L 133.962 380.790 
L 133.138 393.701 
L 132.096 406.553 
L 130.735 420.523 
L 129.030 435.617 
L 126.966 451.853 
L 124.375 470.421 
L 120.890 493.711 
L 117.987 512.462 
L 117.987 512.462 
" clip-path="url(#p56ecee5111)" style="fill: none; stroke: #00bfbf; stroke-width: 2.1; stroke-linecap: square"/>
   </g>
   <g id="line2d_71">
    <path d="M 67.711 288.522 
L 70.528 288.515 
L 73.277 288.681 
L 75.956 289.011 
L 78.563 289.500 
L 81.098 290.141 
L 83.559 290.926 
L 85.944 291.849 
L 89.377 293.477 
L 92.631 295.377 
L 95.701 297.524 
L 98.584 299.897 
L 101.272 302.471 
L 103.763 305.224 
L 106.050 308.133 
L 108.131 311.175 
L 110.014 314.339 
L 111.711 317.614 
L 113.234 320.992 
L 114.594 324.461 
L 116.176 329.215 
L 117.519 334.092 
L 118.650 339.071 
L 119.598 344.127 
L 120.567 350.522 
L 121.487 358.246 
L 122.331 367.240 
L 123.049 377.465 
L 123.518 387.640 
L 123.756 397.773 
L 123.778 407.871 
L 123.567 419.200 
L 123.127 430.506 
L 122.400 443.054 
L 121.454 455.603 
L 120.196 469.425 
L 118.475 485.811 
L 116.109 506.102 
L 115.332 512.480 
L 115.332 512.480 
" clip-path="url(#p56ecee5111)" style="fill: none; stroke-dasharray: 7.1,3.07; stroke-dashoffset: 0; stroke: #bfbf00; stroke-width: 2.1"/>
   </g>
   <g id="line2d_72">
    <path d="M 68.404 288.087 
L 70.387 289.374 
L 72.209 290.789 
L 73.878 292.324 
L 75.404 293.968 
L 76.797 295.714 
L 78.656 298.503 
L 80.266 301.468 
L 81.658 304.579 
L 82.863 307.805 
L 84.232 312.233 
L 85.396 316.740 
L 86.631 322.424 
L 87.646 328.155 
L 88.611 335.081 
L 89.341 342.048 
L 89.956 350.206 
L 90.432 359.541 
L 90.814 371.189 
L 91.008 383.968 
L 90.988 396.717 
L 90.746 410.600 
L 90.257 425.621 
L 89.508 441.786 
L 88.425 460.265 
L 86.829 483.400 
L 84.646 512.434 
L 84.646 512.434 
" clip-path="url(#p56ecee5111)" style="fill: none; stroke: #bfbf00; stroke-width: 2.1; stroke-linecap: square"/>
   </g>
   <g id="line2d_73">
    <g clip-path="url(#p56ecee5111)">
     <path d="M 0 1.8 C 0.477 1.8 0.935 1.610 1.272 1.272 C 1.610 0.935 1.8 0.477 1.8 0 C 1.8 -0.477 1.610 -0.935 1.272 -1.272 C 0.935 -1.610 0.477 -1.8 0 -1.8 C -0.477 -1.8 -0.935 -1.610 -1.272 -1.272 C -1.610 -0.935 -1.8 -0.477 -1.8 0 C -1.8 0.477 -1.610 0.935 -1.272 1.272 C -0.935 1.610 -0.477 1.8 0 1.8 z" transform="translate(109.816 479.889)" style="fill: #d9d9d9; stroke: #000000; stroke-width: 1.3"/>
    </g>
   </g>
   <g id="patch_13">
    <path d="M 40.1 512.5 
L 40.1 288.3 
" style="fill: none; stroke: #000000; stroke-width: 0.768; stroke-linejoin: miter; stroke-linecap: square"/>
   </g>
   <g id="patch_14">
    <path d="M 462.5 512.5 
L 462.5 288.3 
" style="fill: none; stroke: #000000; stroke-width: 0.768; stroke-linejoin: miter; stroke-linecap: square"/>
   </g>
   <g id="patch_15">
    <path d="M 40.1 512.5 
L 462.5 512.5 
" style="fill: none; stroke: #000000; stroke-width: 0.768; stroke-linejoin: miter; stroke-linecap: square"/>
   </g>
   <g id="patch_16">
    <path d="M 40.1 288.3 
L 462.5 288.3 
" style="fill: none; stroke: #000000; stroke-width: 0.768; stroke-linejoin: miter; stroke-linecap: square"/>
   </g>
  </g>
  <g id="axes_4">
   <g id="patch_17">
    <path d="M 40.1 795.2 
L 462.5 795.2 
L 462.5 571.1 
L 40.1 571.1 
z
" style="fill: #ffffff"/>
   </g>
   <g id="matplotlib.axis_7">
    <g id="xtick_18">
     <g id="line2d_74">
      <g>
       <path d="M 0 0 L 0 3.36" transform="translate(40.1 795.2)" style="stroke: #000000; stroke-width: 0.768"/>
      </g>
     </g>
     <g id="text_45">
      <text style="font-size: 9.6px; font-family: 'DejaVu Sans', 'Liberation Sans', sans-serif; text-anchor: middle" x="40.1" y="810.114" transform="rotate(-0 40.1 810.114)">0</text>
     </g>
    </g>
    <g id="xtick_19">
     <g id="line2d_75">
      <g>
       <path d="M 0 0 L 0 3.36" transform="translate(122.119 795.2)" style="stroke: #000000; stroke-width: 0.768"/>
      </g>
     </g>
     <g id="text_46">
      <text style="font-size: 9.6px; font-family: 'DejaVu Sans', 'Liberation Sans', sans-serif; text-anchor: middle" x="122.119" y="810.114" transform="rotate(-0 122.119 810.114)">500</text>
     </g>
    </g>
    <g id="xtick_20">
     <g id="line2d_76">
      <g>
       <path d="M 0 0 L 0 3.36" transform="translate(204.138 795.2)" style="stroke: #000000; stroke-width: 0.768"/>
      </g>
     </g>
     <g id="text_47">
      <text style="font-size: 9.6px; font-family: 'DejaVu Sans', 'Liberation Sans', sans-serif; text-anchor: middle" x="204.138" y="810.114" transform="rotate(-0 204.138 810.114)">1000</text>
     </g>
    </g>
    <g id="xtick_21">
     <g id="line2d_77">
      <g>
       <path d="M 0 0 L 0 3.36" transform="translate(286.158 795.2)" style="stroke: #000000; stroke-width: 0.768"/>
      </g>
     </g>
     <g id="text_48">
      <text style="font-size: 9.6px; font-family: 'DejaVu Sans', 'Liberation Sans', sans-serif; text-anchor: middle" x="286.158" y="810.114" transform="rotate(-0 286.158 810.114)">1500</text>
     </g>
    </g>
    <g id="xtick_22">
     <g id="line2d_78">
      <g>
       <path d="M 0 0 L 0 3.36" transform="translate(368.177 795.2)" style="stroke: #000000; stroke-width: 0.768"/>
      </g>
     </g>
     <g id="text_49">
      <text style="font-size: 9.6px; font-family: 'DejaVu Sans', 'Liberation Sans', sans-serif; text-anchor: middle" x="368.177" y="810.114" transform="rotate(-0 368.177 810.114)">2000</text>
     </g>
    </g>
    <g id="xtick_23">
     <g id="line2d_79">
      <g>
       <path d="M 0 0 L 0 3.36" transform="translate(450.197 795.2)" style="stroke: #000000; stroke-width: 0.768"/>
      </g>
     </g>
     <g id="text_50">
      <text style="font-size: 9.6px; font-family: 'DejaVu Sans', 'Liberation Sans', sans-serif; text-anchor: middle" x="450.197" y="810.114" transform="rotate(-0 450.197 810.114)">2500</text>
     </g>
    </g>
    <g id="text_51">
     <g transform="translate(227.741 824.504)">
      <text><tspan x="0.00" y="-0.89" style="font-style: oblique; font-size: 11.52px; font-family: 'DejaVu Sans', 'Liberation Sans', sans-serif">V</tspan><tspan x="7.87" y="1.08" style="font-style: oblique; font-size: 8.064px; font-family: 'DejaVu Sans', 'Liberation Sans', sans-serif">S</tspan><tspan x="13.30 16.96 21.45 32.65 36.52 42.52" y="-0.89" style="font-size: 11.52px; font-family: 'DejaVu Sans', 'Liberation Sans', sans-serif"> (m/s)</tspan></text>
     </g>
    </g>
   </g>
   <g id="matplotlib.axis_8">
    <g id="ytick_22">
     <g id="line2d_80">
      <g>
       <path d="M 0 0 L -3.36 0" transform="translate(40.1 571.1)" style="stroke: #000000; stroke-width: 0.768"/>
      </g>
     </g>
     <g id="text_52">
      <text style="font-size: 9.6px; font-family: 'DejaVu Sans', 'Liberation Sans', sans-serif; text-anchor: end" x="33.38" y="575.247" transform="rotate(-0 33.38 575.247)">0</text>
     </g>
    </g>
    <g id="ytick_23">
     <g id="line2d_81">
      <g>
       <path d="M 0 0 L -3.36 0" transform="translate(40.1 611.845)" style="stroke: #000000; stroke-width: 0.768"/>
      </g>
     </g>
     <g id="text_53">
      <text style="font-size: 9.6px; font-family: 'DejaVu Sans', 'Liberation Sans', sans-serif; text-anchor: end" x="33.38" y="615.992" transform="rotate(-0 33.38 615.992)">10</text>
     </g>
    </g>
    <g id="ytick_24">
     <g id="line2d_82">
      <g>
       <path d="M 0 0 L -3.36 0" transform="translate(40.1 652.590)" style="stroke: #000000; stroke-width: 0.768"/>
      </g>
     </g>
     <g id="text_54">
      <text style="font-size: 9.6px; font-family: 'DejaVu Sans', 'Liberation Sans', sans-serif; text-anchor: end" x="33.38" y="656.738" transform="rotate(-0 33.38 656.738)">20</text>
     </g>
    </g>
    <g id="ytick_25">
     <g id="line2d_83">
      <g>
       <path d="M 0 0 L -3.36 0" transform="translate(40.1 693.336)" style="stroke: #000000; stroke-width: 0.768"/>
      </g>
     </g>
     <g id="text_55">
      <text style="font-size: 9.6px; font-family: 'DejaVu Sans', 'Liberation Sans', sans-serif; text-anchor: end" x="33.38" y="697.483" transform="rotate(-0 33.38 697.483)">30</text>
     </g>
    </g>
    <g id="ytick_26">
     <g id="line2d_84">
      <g>
       <path d="M 0 0 L -3.36 0" transform="translate(40.1 734.081)" style="stroke: #000000; stroke-width: 0.768"/>
      </g>
     </g>
     <g id="text_56">
      <text style="font-size: 9.6px; font-family: 'DejaVu Sans', 'Liberation Sans', sans-serif; text-anchor: end" x="33.38" y="738.229" transform="rotate(-0 33.38 738.229)">40</text>
     </g>
    </g>
    <g id="ytick_27">
     <g id="line2d_85">
      <g>
       <path d="M 0 0 L -3.36 0" transform="translate(40.1 774.827)" style="stroke: #000000; stroke-width: 0.768"/>
      </g>
     </g>
     <g id="text_57">
      <text style="font-size: 9.6px; font-family: 'DejaVu Sans', 'Liberation Sans', sans-serif; text-anchor: end" x="33.38" y="778.974" transform="rotate(-0 33.38 778.974)">50</text>
     </g>
    </g>
    <g id="text_58">
     <text style="font-size: 11.52px; font-family: 'DejaVu Sans', 'Liberation Sans', sans-serif; text-anchor: middle" x="14.328" y="683.15" transform="rotate(-90 14.328 683.15)">Porosity (%)</text>
    </g>
   </g>
   <g id="line2d_86">
    <path d="M 109.816 795.2 
L 109.816 571.1 
" clip-path="url(#p47bf3613bc)" style="fill: none; stroke-dasharray: 1.44,2.38; stroke-dashoffset: 0; stroke: #808080; stroke-width: 1.62"/>
   </g>
   <g id="line2d_87">
    <path d="M 167.230 795.2 
L 167.230 571.1 
" clip-path="url(#p47bf3613bc)" style="fill: none; stroke-dasharray: 1.44,2.38; stroke-dashoffset: 0; stroke: #808080; stroke-width: 1.62"/>
   </g>
   <g id="line2d_88">
    <path d="M 232.845 795.2 
L 232.845 571.1 
" clip-path="url(#p47bf3613bc)" style="fill: none; stroke-dasharray: 1.44,2.38; stroke-dashoffset: 0; stroke: #808080; stroke-width: 1.62"/>
   </g>
   <g id="line2d_89">
    <path d="M 302.562 795.2 
L 302.562 571.1 
" clip-path="url(#p47bf3613bc)" style="fill: none; stroke-dasharray: 1.44,2.38; stroke-dashoffset: 0; stroke: #808080; stroke-width: 1.62"/>
   </g>
   <g id="line2d_90">
    <path d="M 318.966 795.2 
L 318.966 571.1 
" clip-path="url(#p47bf3613bc)" style="fill: none; stroke-dasharray: 1.44,2.38; stroke-dashoffset: 0; stroke: #808080; stroke-width: 1.62"/>
   </g>
   <g id="line2d_91">
    <path d="M 417.389 795.2 
L 417.389 571.1 
" clip-path="url(#p47bf3613bc)" style="fill: none; stroke-dasharray: 1.44,2.38; stroke-dashoffset: 0; stroke: #808080; stroke-width: 1.62"/>
   </g>
   <g id="line2d_92">
    <path d="M 40.1 734.081 
L 462.5 734.081 
" clip-path="url(#p47bf3613bc)" style="fill: none; stroke-dasharray: 5.33,2.3; stroke-dashoffset: 0; stroke: #000000; stroke-width: 1.62"/>
   </g>
   <g id="line2d_93">
    <path d="M 40.4 795.2 
L 40.9 776 
L 41.9 771.000 
L 69.015 767.786 
L 88.632 765.340 
L 102.998 763.338 
L 116.802 761.178 
L 129.627 758.926 
L 141.144 756.680 
L 153.126 754.106 
L 165.554 751.172 
L 176.241 748.432 
L 187.220 745.411 
L 214.712 737.436 
L 226.628 733.795 
L 238.805 729.872 
L 248.732 726.539 
L 253.756 724.639 
L 269.068 718.519 
L 287.375 710.949 
L 385.703 669.727 
L 409.684 660.060 
L 462.4 639.100 
L 462.4 639.100 
" clip-path="url(#p47bf3613bc)" style="fill: none; stroke-dasharray: 7.1,3.07; stroke-dashoffset: 0; stroke: #ff0000; stroke-width: 2.1"/>
   </g>
   <g id="line2d_94">
    <path d="M 40.4 795.2 
L 40.9 775 
L 42.4 768.788 
L 50.237 766.476 
L 57.838 764.023 
L 65.765 761.226 
L 73.379 758.292 
L 80.249 755.425 
L 87.563 752.128 
L 95.296 748.353 
L 101.769 744.953 
L 108.486 741.181 
L 115.439 737.004 
L 122.620 732.386 
L 131.907 726.049 
L 137.639 721.898 
L 145.465 715.915 
L 153.493 709.485 
L 165.907 699.192 
L 185.331 683.033 
L 194.262 675.914 
L 207.994 665.342 
L 215.007 660.410 
L 222.116 655.791 
L 229.320 651.462 
L 234.175 648.756 
L 241.535 645.050 
L 248.986 641.554 
L 256.528 638.231 
L 274.474 630.699 
L 284.942 626.571 
L 295.564 622.625 
L 306.336 618.900 
L 317.256 615.451 
L 328.324 612.242 
L 339.536 609.262 
L 350.890 606.502 
L 362.386 603.946 
L 374.021 601.582 
L 385.794 599.392 
L 400.701 596.871 
L 428.061 592.631 
L 449.800 589.394 
L 462.4 587.599 
L 462.4 587.599 
" clip-path="url(#p47bf3613bc)" style="fill: none; stroke: #ff0000; stroke-width: 2.1; stroke-linecap: square"/>
   </g>
   <g id="line2d_95">
    <path d="M 40.4 795.2 
L 40.9 776 
L 41.9 770.993 
L 53.339 769.865 
L 64.093 768.610 
L 74.254 767.230 
L 84.136 765.689 
L 94.859 763.784 
L 104.672 761.820 
L 115.026 759.512 
L 125.894 756.829 
L 135.326 754.284 
L 145.087 751.442 
L 155.167 748.290 
L 165.554 744.819 
L 176.241 741.023 
L 187.220 736.901 
L 229.042 720.609 
L 243.748 714.543 
L 251.239 711.299 
L 271.654 701.166 
L 317.084 678.464 
L 345.056 664.969 
L 359.377 658.253 
L 382.743 647.568 
L 406.657 636.880 
L 431.105 625.940 
L 456.076 614.465 
L 462.4 611.498 
L 462.4 611.498 
" clip-path="url(#p47bf3613bc)" style="fill: none; stroke-dasharray: 7.1,3.07; stroke-dashoffset: 0; stroke: #ff00ff; stroke-width: 2.1"/>
   </g>
   <g id="line2d_96">
    <path d="M 40.4 795.2 
L 40.9 775 
L 42.4 768.487 
L 58.902 762.744 
L 65.765 760.088 
L 70.762 757.962 
L 76.072 755.471 
L 80.249 753.313 
L 84.586 750.858 
L 89.077 748.058 
L 93.717 744.859 
L 98.501 741.250 
L 103.425 737.247 
L 108.486 732.875 
L 115.439 726.533 
L 145.465 698.435 
L 155.532 689.340 
L 172.276 674.676 
L 180.933 667.531 
L 187.547 662.346 
L 194.262 657.353 
L 201.079 652.552 
L 207.994 647.974 
L 215.007 643.636 
L 222.116 639.535 
L 229.320 635.665 
L 241.535 629.486 
L 248.986 626.000 
L 256.528 622.708 
L 261.606 620.665 
L 269.297 617.904 
L 277.076 615.303 
L 287.583 612.055 
L 298.243 609.018 
L 314.512 604.675 
L 328.324 601.231 
L 342.361 597.987 
L 356.621 594.944 
L 371.100 592.101 
L 385.794 589.456 
L 400.701 587.006 
L 418.867 584.289 
L 434.232 582.031 
L 449.800 579.945 
L 462.4 578.401 
L 462.4 578.401 
" clip-path="url(#p47bf3613bc)" style="fill: none; stroke: #ff00ff; stroke-width: 2.1; stroke-linecap: square"/>
   </g>
   <g id="line2d_97">
    <path d="M 40.4 795.2 
L 40.9 776 
L 41.9 770.993 
L 54.305 769.845 
L 66.513 768.487 
L 76.988 767.113 
L 87.117 765.583 
L 98.068 763.692 
L 108.065 761.742 
L 118.593 759.453 
L 129.627 756.791 
L 139.192 754.266 
L 149.081 751.448 
L 159.285 748.324 
L 169.793 744.886 
L 180.598 741.129 
L 191.691 737.051 
L 205.372 731.956 
L 219.447 726.767 
L 233.903 721.176 
L 248.732 715.215 
L 253.756 712.931 
L 274.250 703.143 
L 317.084 682.320 
L 347.902 667.505 
L 356.495 663.554 
L 379.792 653.110 
L 403.638 642.658 
L 437.299 627.957 
L 459.234 618.139 
L 462.4 616.696 
L 462.4 616.696 
" clip-path="url(#p47bf3613bc)" style="fill: none; stroke-dasharray: 7.1,3.07; stroke-dashoffset: 0; stroke: #ff8c00; stroke-width: 2.1"/>
   </g>
   <g id="line2d_98">
    <path d="M 40.4 795.2 
L 40.9 775 
L 42.4 768.586 
L 54.790 764.601 
L 62.234 761.960 
L 68.223 759.606 
L 73.379 757.364 
L 78.839 754.730 
L 83.123 752.445 
L 87.563 749.851 
L 92.154 746.901 
L 96.891 743.568 
L 101.769 739.859 
L 106.784 735.792 
L 113.679 729.855 
L 128.151 716.807 
L 155.532 691.953 
L 174.423 675.379 
L 183.126 668.198 
L 189.774 662.993 
L 196.523 657.994 
L 203.373 653.223 
L 210.321 648.703 
L 217.366 644.432 
L 224.507 640.404 
L 231.742 636.612 
L 239.071 633.014 
L 246.492 629.627 
L 254.004 626.444 
L 264.160 622.431 
L 271.881 619.552 
L 282.311 615.945 
L 292.894 612.563 
L 303.629 609.354 
L 314.512 606.330 
L 328.324 602.722 
L 342.361 599.303 
L 356.621 596.082 
L 371.100 593.071 
L 385.794 590.277 
L 400.701 587.711 
L 415.818 585.382 
L 428.061 583.744 
L 440.435 582.273 
L 452.938 580.968 
L 462.4 580.102 
L 462.4 580.102 
" clip-path="url(#p47bf3613bc)" style="fill: none; stroke: #ff8c00; stroke-width: 2.1; stroke-linecap: square"/>
   </g>
   <g id="line2d_99">
    <path d="M 40.4 795.2 
L 40.9 776 
L 41.9 770.997 
L 60.623 768.470 
L 72.916 766.604 
L 84.136 764.688 
L 94.859 762.627 
L 104.672 760.521 
L 115.026 758.054 
L 124.048 755.690 
L 133.413 753.019 
L 143.109 750.021 
L 153.126 746.675 
L 163.452 742.968 
L 174.080 738.892 
L 185.001 734.442 
L 196.207 729.622 
L 217.074 720.287 
L 231.468 713.512 
L 248.732 705.092 
L 261.367 698.630 
L 303.440 676.799 
L 325.380 665.076 
L 342.218 656.305 
L 350.758 651.969 
L 368.074 643.880 
L 385.703 635.889 
L 409.684 625.294 
L 428.020 617.170 
L 443.526 610.085 
L 456.076 604.119 
L 462.4 600.995 
L 462.4 600.995 
" clip-path="url(#p47bf3613bc)" style="fill: none; stroke-dasharray: 7.1,3.07; stroke-dashoffset: 0; stroke: #0000ff; stroke-width: 2.1"/>
   </g>
   <g id="line2d_100">
    <path d="M 40.4 795.2 
L 40.9 775 
L 42.4 768.288 
L 58.902 762.196 
L 65.765 759.380 
L 70.762 757.120 
L 76.072 754.466 
L 80.249 752.159 
L 84.586 749.529 
L 89.077 746.521 
L 93.717 743.077 
L 98.501 739.184 
L 103.425 734.866 
L 108.486 730.155 
L 115.439 723.336 
L 135.715 703.049 
L 145.465 693.595 
L 153.493 686.082 
L 172.276 668.999 
L 178.751 663.422 
L 185.331 658.012 
L 192.013 652.801 
L 198.795 647.847 
L 205.678 643.197 
L 212.658 638.801 
L 219.735 634.653 
L 226.908 630.747 
L 234.175 627.073 
L 241.535 623.606 
L 248.986 620.353 
L 256.528 617.300 
L 261.606 615.402 
L 269.297 612.805 
L 277.076 610.368 
L 287.583 607.334 
L 298.243 604.499 
L 317.256 599.741 
L 331.113 596.503 
L 345.195 593.447 
L 359.499 590.584 
L 374.021 587.923 
L 388.759 585.475 
L 403.708 583.248 
L 418.867 581.237 
L 434.232 579.357 
L 449.800 577.723 
L 462.4 576.602 
L 462.4 576.602 
" clip-path="url(#p47bf3613bc)" style="fill: none; stroke: #0000ff; stroke-width: 2.1; stroke-linecap: square"/>
   </g>
   <g id="line2d_101">
    <path d="M 40.4 795.2 
L 40.9 776 
L 41.9 770.996 
L 52.399 769.555 
L 62.915 767.880 
L 72.916 766.043 
L 82.671 764.001 
L 91.713 761.874 
L 101.339 759.354 
L 109.783 756.921 
L 118.593 754.160 
L 127.753 751.048 
L 137.252 747.565 
L 147.078 743.696 
L 157.220 739.428 
L 167.668 734.755 
L 178.414 729.676 
L 189.449 724.195 
L 200.767 718.326 
L 212.361 712.086 
L 226.628 704.144 
L 243.748 694.325 
L 266.491 680.996 
L 303.440 659.314 
L 322.606 648.341 
L 339.389 639.001 
L 353.622 631.312 
L 368.074 623.736 
L 382.743 616.279 
L 400.628 607.464 
L 424.944 595.799 
L 449.785 583.862 
L 462.4 577.591 
L 462.4 577.591 
" clip-path="url(#p47bf3613bc)" style="fill: none; stroke-dasharray: 7.1,3.07; stroke-dashoffset: 0; stroke: #00bfbf; stroke-width: 2.1"/>
   </g>
   <g id="line2d_102">
    <path d="M 40.4 795.2 
L 40.9 775 
L 42.4 767.986 
L 49.412 765.401 
L 55.781 762.813 
L 61.101 760.418 
L 65.765 758.108 
L 70.762 755.378 
L 74.716 753.008 
L 78.839 750.318 
L 83.123 747.265 
L 87.563 743.799 
L 92.154 739.866 
L 96.891 735.438 
L 101.769 730.539 
L 106.784 725.206 
L 113.679 717.506 
L 122.620 707.141 
L 135.715 691.913 
L 143.489 683.214 
L 151.467 674.648 
L 157.583 668.353 
L 163.808 662.202 
L 170.141 656.227 
L 176.581 650.461 
L 183.126 644.940 
L 189.774 639.699 
L 196.523 634.777 
L 201.079 631.692 
L 205.678 628.778 
L 210.321 626.048 
L 215.007 623.513 
L 219.735 621.165 
L 224.507 618.992 
L 229.320 616.976 
L 236.618 614.214 
L 244.008 611.712 
L 251.490 609.403 
L 264.160 605.789 
L 292.894 597.875 
L 306.336 594.437 
L 317.256 591.879 
L 328.324 589.499 
L 339.536 587.292 
L 350.890 585.250 
L 365.282 582.919 
L 379.891 580.815 
L 394.713 578.916 
L 409.747 577.198 
L 428.061 575.333 
L 449.800 573.362 
L 462.4 572.299 
L 462.4 572.299 
" clip-path="url(#p47bf3613bc)" style="fill: none; stroke: #00bfbf; stroke-width: 2.1; stroke-linecap: square"/>
   </g>
   <g id="line2d_103">
    <path d="M 40.4 795.2 
L 40.9 775 
L 42.487 768.454 
L 45.164 767.199 
L 47.994 766.124 
L 50.812 765.265 
L 54.664 764.352 
L 59.730 763.432 
L 67.913 762.000 
L 71.470 761.164 
L 74.238 760.341 
L 77.088 759.310 
L 80.018 758.067 
L 84.047 756.074 
L 88.210 753.695 
L 92.503 750.936 
L 96.922 747.806 
L 101.465 744.321 
L 107.310 739.503 
L 117.037 731.024 
L 120.800 727.860 
L 136.454 715.470 
L 140.513 711.840 
L 146.014 706.594 
L 153.030 699.512 
L 161.648 690.477 
L 171.971 679.579 
L 181.044 670.319 
L 190.320 661.144 
L 211.091 641.071 
L 222.646 630.246 
L 243.040 611.539 
L 262.364 594.073 
L 287.8 571.306 
L 287.8 571.306 
" clip-path="url(#p47bf3613bc)" style="fill: none; stroke-dasharray: 7.1,3.07; stroke-dashoffset: 0; stroke: #bfbf00; stroke-width: 2.1"/>
   </g>
   <g id="line2d_104">
    <path d="M 40.4 795.2 
L 40.9 775 
L 42.487 767.414 
L 47.994 762.558 
L 53.989 757.189 
L 57.488 753.758 
L 60.500 750.502 
L 62.877 747.678 
L 65.349 744.454 
L 67.913 740.789 
L 71.470 735.223 
L 75.179 728.915 
L 79.033 721.923 
L 84.047 712.353 
L 98.047 685.249 
L 102.619 677.063 
L 107.310 669.115 
L 112.117 661.378 
L 117.037 653.901 
L 120.800 648.511 
L 124.624 643.348 
L 128.508 638.448 
L 132.452 633.822 
L 136.454 629.470 
L 140.513 625.387 
L 144.630 621.568 
L 148.802 618.004 
L 153.030 614.688 
L 157.312 611.608 
L 161.648 608.752 
L 166.037 606.104 
L 170.479 603.648 
L 174.973 601.365 
L 181.044 598.557 
L 187.206 595.967 
L 193.456 593.559 
L 199.793 591.320 
L 207.836 588.746 
L 216.012 586.399 
L 224.318 584.251 
L 234.454 581.894 
L 246.509 579.368 
L 264.150 575.961 
L 284.109 572.068 
L 287.8 571.300 
L 287.8 571.300 
" clip-path="url(#p47bf3613bc)" style="fill: none; stroke: #bfbf00; stroke-width: 2.1; stroke-linecap: square"/>
   </g>
   <g id="LineCollection_3">
    <path d="M 94.232 770.752 
L 138.523 770.752 
" clip-path="url(#p47bf3613bc)" style="fill: none; stroke: #000000; stroke-width: 1.62"/>
   </g>
   <g id="line2d_105">
    <g clip-path="url(#p47bf3613bc)">
     <path d="M 0 3.84 L 0 -3.84" transform="translate(94.232 770.752)" style="stroke: #000000; stroke-width: 1.62"/>
    </g>
   </g>
   <g id="line2d_106">
    <g clip-path="url(#p47bf3613bc)">
     <path d="M 0 3.84 L 0 -3.84" transform="translate(138.523 770.752)" style="stroke: #000000; stroke-width: 1.62"/>
    </g>
   </g>
   <g id="LineCollection_4">
    <path d="M 224.643 762.603 
L 458.399 762.603 
" clip-path="url(#p47bf3613bc)" style="fill: none; stroke: #000000; stroke-width: 1.62"/>
   </g>
   <g id="line2d_107">
    <g clip-path="url(#p47bf3613bc)">
     <path d="M 0 3.84 L 0 -3.84" transform="translate(224.643 762.603)" style="stroke: #000000; stroke-width: 1.62"/>
    </g>
   </g>
   <g id="line2d_108">
    <g clip-path="url(#p47bf3613bc)">
     <path d="M 0 3.84 L 0 -3.84" transform="translate(458.399 762.603)" style="stroke: #000000; stroke-width: 1.62"/>
    </g>
   </g>
   <g id="LineCollection_5">
    <path d="M 134.422 778.901 
L 339.470 778.901 
" clip-path="url(#p47bf3613bc)" style="fill: none; stroke: #000000; stroke-width: 1.62"/>
   </g>
   <g id="line2d_109">
    <g clip-path="url(#p47bf3613bc)">
     <path d="M 0 3.84 L 0 -3.84" transform="translate(134.422 778.901)" style="stroke: #000000; stroke-width: 1.62"/>
    </g>
   </g>
   <g id="line2d_110">
    <g clip-path="url(#p47bf3613bc)">
     <path d="M 0 3.84 L 0 -3.84" transform="translate(339.470 778.901)" style="stroke: #000000; stroke-width: 1.62"/>
    </g>
   </g>
   <g id="LineCollection_6">
    <path d="M 122.119 787.050 
L 261.552 787.050 
" clip-path="url(#p47bf3613bc)" style="fill: none; stroke: #000000; stroke-width: 1.62"/>
   </g>
   <g id="line2d_111">
    <g clip-path="url(#p47bf3613bc)">
     <path d="M 0 3.84 L 0 -3.84" transform="translate(122.119 787.050)" style="stroke: #000000; stroke-width: 1.62"/>
    </g>
   </g>
   <g id="line2d_112">
    <g clip-path="url(#p47bf3613bc)">
     <path d="M 0 3.84 L 0 -3.84" transform="translate(261.552 787.050)" style="stroke: #000000; stroke-width: 1.62"/>
    </g>
   </g>
   <g id="LineCollection_7">
    <path d="M 286.158 787.050 
L 327.167 787.050 
" clip-path="url(#p47bf3613bc)" style="fill: none; stroke: #000000; stroke-width: 1.62"/>
   </g>
   <g id="line2d_113">
    <g clip-path="url(#p47bf3613bc)">
     <path d="M 0 3.84 L 0 -3.84" transform="translate(286.158 787.050)" style="stroke: #000000; stroke-width: 1.62"/>
    </g>
   </g>
   <g id="line2d_114">
    <g clip-path="url(#p47bf3613bc)">
     <path d="M 0 3.84 L 0 -3.84" transform="translate(327.167 787.050)" style="stroke: #000000; stroke-width: 1.62"/>
    </g>
   </g>
   <g id="LineCollection_8">
    <path d="M 376.379 787.050 
L 450.197 787.050 
" clip-path="url(#p47bf3613bc)" style="fill: none; stroke: #000000; stroke-width: 1.62"/>
   </g>
   <g id="line2d_115">
    <g clip-path="url(#p47bf3613bc)">
     <path d="M 0 3.84 L 0 -3.84" transform="translate(376.379 787.050)" style="stroke: #000000; stroke-width: 1.62"/>
    </g>
   </g>
   <g id="line2d_116">
    <g clip-path="url(#p47bf3613bc)">
     <path d="M 0 3.84 L 0 -3.84" transform="translate(450.197 787.050)" style="stroke: #000000; stroke-width: 1.62"/>
    </g>
   </g>
   <g id="line2d_117">
    <g clip-path="url(#p47bf3613bc)">
     <path d="M 0 2.1 C 0.556 2.1 1.091 1.878 1.484 1.484 C 1.878 1.091 2.1 0.556 2.1 0 C 2.1 -0.556 1.878 -1.091 1.484 -1.484 C 1.091 -1.878 0.556 -2.1 0 -2.1 C -0.556 -2.1 -1.091 -1.878 -1.484 -1.484 C -1.878 -1.091 -2.1 -0.556 -2.1 0 C -2.1 0.556 -1.878 1.091 -1.484 1.484 C -1.091 1.878 -0.556 2.1 0 2.1 z" transform="translate(109.816 770.752)" style="stroke: #000000"/>
    </g>
   </g>
   <g id="line2d_118">
    <g clip-path="url(#p47bf3613bc)">
     <path d="M 0 2.1 C 0.556 2.1 1.091 1.878 1.484 1.484 C 1.878 1.091 2.1 0.556 2.1 0 C 2.1 -0.556 1.878 -1.091 1.484 -1.484 C 1.091 -1.878 0.556 -2.1 0 -2.1 C -0.556 -2.1 -1.091 -1.878 -1.484 -1.484 C -1.878 -1.091 -2.1 -0.556 -2.1 0 C -2.1 0.556 -1.878 1.091 -1.484 1.484 C -1.091 1.878 -0.556 2.1 0 2.1 z" transform="translate(318.966 762.603)" style="stroke: #000000"/>
    </g>
   </g>
   <g id="line2d_119">
    <g clip-path="url(#p47bf3613bc)">
     <path d="M 0 2.1 C 0.556 2.1 1.091 1.878 1.484 1.484 C 1.878 1.091 2.1 0.556 2.1 0 C 2.1 -0.556 1.878 -1.091 1.484 -1.484 C 1.091 -1.878 0.556 -2.1 0 -2.1 C -0.556 -2.1 -1.091 -1.878 -1.484 -1.484 C -1.878 -1.091 -2.1 -0.556 -2.1 0 C -2.1 0.556 -1.878 1.091 -1.484 1.484 C -1.091 1.878 -0.556 2.1 0 2.1 z" transform="translate(232.845 778.901)" style="stroke: #000000"/>
    </g>
   </g>
   <g id="line2d_120">
    <g clip-path="url(#p47bf3613bc)">
     <path d="M 0 2.1 C 0.556 2.1 1.091 1.878 1.484 1.484 C 1.878 1.091 2.1 0.556 2.1 0 C 2.1 -0.556 1.878 -1.091 1.484 -1.484 C 1.091 -1.878 0.556 -2.1 0 -2.1 C -0.556 -2.1 -1.091 -1.878 -1.484 -1.484 C -1.878 -1.091 -2.1 -0.556 -2.1 0 C -2.1 0.556 -1.878 1.091 -1.484 1.484 C -1.091 1.878 -0.556 2.1 0 2.1 z" transform="translate(167.230 787.050)" style="stroke: #000000"/>
    </g>
   </g>
   <g id="line2d_121">
    <g clip-path="url(#p47bf3613bc)">
     <path d="M 0 2.1 C 0.556 2.1 1.091 1.878 1.484 1.484 C 1.878 1.091 2.1 0.556 2.1 0 C 2.1 -0.556 1.878 -1.091 1.484 -1.484 C 1.091 -1.878 0.556 -2.1 0 -2.1 C -0.556 -2.1 -1.091 -1.878 -1.484 -1.484 C -1.878 -1.091 -2.1 -0.556 -2.1 0 C -2.1 0.556 -1.878 1.091 -1.484 1.484 C -1.091 1.878 -0.556 2.1 0 2.1 z" transform="translate(302.562 787.050)" style="stroke: #000000"/>
    </g>
   </g>
   <g id="line2d_122">
    <g clip-path="url(#p47bf3613bc)">
     <path d="M 0 2.1 C 0.556 2.1 1.091 1.878 1.484 1.484 C 1.878 1.091 2.1 0.556 2.1 0 C 2.1 -0.556 1.878 -1.091 1.484 -1.484 C 1.091 -1.878 0.556 -2.1 0 -2.1 C -0.556 -2.1 -1.091 -1.878 -1.484 -1.484 C -1.878 -1.091 -2.1 -0.556 -2.1 0 C -2.1 0.556 -1.878 1.091 -1.484 1.484 C -1.091 1.878 -0.556 2.1 0 2.1 z" transform="translate(417.389 787.050)" style="stroke: #000000"/>
    </g>
   </g>
   <g id="patch_18">
    <path d="M 40.1 795.2 
L 40.1 571.1 
" style="fill: none; stroke: #000000; stroke-width: 0.768; stroke-linejoin: miter; stroke-linecap: square"/>
   </g>
   <g id="patch_19">
    <path d="M 462.5 795.2 
L 462.5 571.1 
" style="fill: none; stroke: #000000; stroke-width: 0.768; stroke-linejoin: miter; stroke-linecap: square"/>
   </g>
   <g id="patch_20">
    <path d="M 40.1 795.2 
L 462.5 795.2 
" style="fill: none; stroke: #000000; stroke-width: 0.768; stroke-linejoin: miter; stroke-linecap: square"/>
   </g>
   <g id="patch_21">
    <path d="M 40.1 571.1 
L 462.5 571.1 
" style="fill: none; stroke: #000000; stroke-width: 0.768; stroke-linejoin: miter; stroke-linecap: square"/>
   </g>
  </g>
  <g id="axes_5">
   <g id="patch_22">
    <path d="M 90.6 155.7 
L 220.5 155.7 
Q 222.5 155.7 222.5 157.7 
L 222.5 227.4 
Q 222.5 229.4 220.5 229.4 
L 90.6 229.4 
Q 88.6 229.4 88.6 227.4 
L 88.6 157.7 
Q 88.6 155.7 90.6 155.7 
z
" clip-path="url(#p0e0ab46048)" style="fill: #ffffff; opacity: 0.8; stroke: #cccccc; stroke-width: 0.96; stroke-linejoin: miter"/>
   </g>
   <g id="line2d_123">
    <path d="M 92.4 163.6 
L 111.8 163.6 
" clip-path="url(#p0e0ab46048)" style="fill: none; stroke-dasharray: 5.33,2.3; stroke-dashoffset: 0; stroke: #000000; stroke-width: 1.62"/>
   </g>
   <g id="line2d_124">
    <path d="M 92.4 178.05 
L 111.8 178.05 
" clip-path="url(#p0e0ab46048)" style="fill: none; stroke: #ff0000; stroke-width: 2.1; stroke-linecap: square"/>
   </g>
   <g id="line2d_125">
    <path d="M 92.4 193.25 
L 111.8 193.25 
" clip-path="url(#p0e0ab46048)" style="fill: none; stroke: #0000ff; stroke-width: 2.1; stroke-linecap: square"/>
   </g>
   <g id="line2d_126">
    <path d="M 92.4 215.3 
L 111.8 215.3 
" clip-path="url(#p0e0ab46048)" style="fill: none; stroke: #bfbf00; stroke-width: 2.1; stroke-linecap: square"/>
   </g>
   <g id="line2d_127">
    <path d="M 468.6 117 
L 491.8 117 
" clip-path="url(#p0e0ab46048)" style="fill: none; stroke: #bfbf00; stroke-width: 2.1; stroke-linecap: square"/>
   </g>
   <g id="line2d_128">
    <path d="M 468.6 147.25 
L 491.8 147.25 
" clip-path="url(#p0e0ab46048)" style="fill: none; stroke: #ff0000; stroke-width: 2.1; stroke-linecap: square"/>
   </g>
   <g id="line2d_129">
    <path d="M 468.6 184.2 
L 491.8 184.2 
" clip-path="url(#p0e0ab46048)" style="fill: none; stroke: #0000ff; stroke-width: 2.1; stroke-linecap: square"/>
   </g>
   <g id="line2d_130">
    <path d="M 469 370.8 
L 489.1 370.8 
" clip-path="url(#p0e0ab46048)" style="fill: none; stroke-dasharray: 12.3,3.07,1.92,3.07; stroke-dashoffset: 0; stroke: #ff0000; stroke-width: 2.1"/>
   </g>
   <g id="line2d_131">
    <path d="M 469 386.72 
L 489.1 386.72 
" clip-path="url(#p0e0ab46048)" style="fill: none; stroke-dasharray: 7.1,3.07; stroke-dashoffset: 0; stroke: #ff0000; stroke-width: 2.1"/>
   </g>
   <g id="line2d_132">
    <path d="M 469 402.64 
L 489.1 402.64 
" clip-path="url(#p0e0ab46048)" style="fill: none; stroke: #ff0000; stroke-width: 2.1; stroke-linecap: square"/>
   </g>
   <g id="line2d_133">
    <path d="M 469 418.56 
L 489.1 418.56 
" clip-path="url(#p0e0ab46048)" style="fill: none; stroke: #ff00ff; stroke-width: 2.1; stroke-linecap: square"/>
   </g>
   <g id="line2d_134">
    <path d="M 469 434.48 
L 489.1 434.48 
" clip-path="url(#p0e0ab46048)" style="fill: none; stroke: #ff8c00; stroke-width: 2.1; stroke-linecap: square"/>
   </g>
   <g id="line2d_135">
    <path d="M 469 450.4 
L 489.1 450.4 
" clip-path="url(#p0e0ab46048)" style="fill: none; stroke: #0000ff; stroke-width: 2.1; stroke-linecap: square"/>
   </g>
   <g id="line2d_136">
    <path d="M 469 466.32 
L 489.1 466.32 
" clip-path="url(#p0e0ab46048)" style="fill: none; stroke: #00bfbf; stroke-width: 2.1; stroke-linecap: square"/>
   </g>
   <g id="line2d_137">
    <path d="M 469 482.24 
L 489.1 482.24 
" clip-path="url(#p0e0ab46048)" style="fill: none; stroke-dasharray: 7.1,3.07; stroke-dashoffset: 0; stroke: #bfbf00; stroke-width: 2.1"/>
   </g>
   <g id="line2d_138">
    <path d="M 469 498.16 
L 489.1 498.16 
" clip-path="url(#p0e0ab46048)" style="fill: none; stroke: #bfbf00; stroke-width: 2.1; stroke-linecap: square"/>
   </g>
   <g id="line2d_139">
    <path d="M 466.5 612.45 
L 486.4 612.45 
" clip-path="url(#p0e0ab46048)" style="fill: none; stroke-dasharray: 7.1,3.07; stroke-dashoffset: 0; stroke: #ff0000; stroke-width: 2.1"/>
   </g>
   <g id="line2d_140">
    <path d="M 466.5 627.77 
L 486.4 627.77 
" clip-path="url(#p0e0ab46048)" style="fill: none; stroke: #ff0000; stroke-width: 2.1; stroke-linecap: square"/>
   </g>
   <g id="line2d_141">
    <path d="M 466.5 643.09 
L 486.4 643.09 
" clip-path="url(#p0e0ab46048)" style="fill: none; stroke-dasharray: 7.1,3.07; stroke-dashoffset: 0; stroke: #ff00ff; stroke-width: 2.1"/>
   </g>
   <g id="line2d_142">
    <path d="M 466.5 658.41 
L 486.4 658.41 
" clip-path="url(#p0e0ab46048)" style="fill: none; stroke: #ff00ff; stroke-width: 2.1; stroke-linecap: square"/>
   </g>
   <g id="line2d_143">
    <path d="M 466.5 673.73 
L 486.4 673.73 
" clip-path="url(#p0e0ab46048)" style="fill: none; stroke-dasharray: 7.1,3.07; stroke-dashoffset: 0; stroke: #ff8c00; stroke-width: 2.1"/>
   </g>
   <g id="line2d_144">
    <path d="M 466.5 689.05 
L 486.4 689.05 
" clip-path="url(#p0e0ab46048)" style="fill: none; stroke: #ff8c00; stroke-width: 2.1; stroke-linecap: square"/>
   </g>
   <g id="line2d_145">
    <path d="M 466.5 704.37 
L 486.4 704.37 
" clip-path="url(#p0e0ab46048)" style="fill: none; stroke-dasharray: 7.1,3.07; stroke-dashoffset: 0; stroke: #0000ff; stroke-width: 2.1"/>
   </g>
   <g id="line2d_146">
    <path d="M 466.5 719.69 
L 486.4 719.69 
" clip-path="url(#p0e0ab46048)" style="fill: none; stroke: #0000ff; stroke-width: 2.1; stroke-linecap: square"/>
   </g>
   <g id="line2d_147">
    <path d="M 466.5 735.01 
L 486.4 735.01 
" clip-path="url(#p0e0ab46048)" style="fill: none; stroke-dasharray: 7.1,3.07; stroke-dashoffset: 0; stroke: #00bfbf; stroke-width: 2.1"/>
   </g>
   <g id="line2d_148">
    <path d="M 466.5 750.33 
L 486.4 750.33 
" clip-path="url(#p0e0ab46048)" style="fill: none; stroke: #00bfbf; stroke-width: 2.1; stroke-linecap: square"/>
   </g>
   <g id="line2d_149">
    <path d="M 466.5 765.65 
L 486.4 765.65 
" clip-path="url(#p0e0ab46048)" style="fill: none; stroke-dasharray: 7.1,3.07; stroke-dashoffset: 0; stroke: #bfbf00; stroke-width: 2.1"/>
   </g>
   <g id="line2d_150">
    <path d="M 466.5 780.97 
L 486.4 780.97 
" clip-path="url(#p0e0ab46048)" style="fill: none; stroke: #bfbf00; stroke-width: 2.1; stroke-linecap: square"/>
   </g>
   <g id="text_59">
    <text style="font-size: 9.6px; font-family: 'DejaVu Sans', 'Liberation Sans', sans-serif; text-anchor: start" x="119.35" y="167.15" transform="rotate(-0 119.35 167.15)">Inverted</text>
   </g>
   <g id="text_60">
    <g transform="translate(119.35 181.85)">
     <text><tspan x="0.00 6.60 12.50 17.52 23.41 26.09 29.86 32.92" y="-0.41" style="font-size: 9.6px; font-family: 'DejaVu Sans', 'Liberation Sans', sans-serif">Basalt, </tspan><tspan x="35.98" y="-0.41" style="font-style: oblique; font-size: 9.6px; font-family: 'DejaVu Sans', 'Liberation Sans', sans-serif">ϕ</tspan><tspan x="42.33 50.39 56.52 59.58 65.70" y="-0.41" style="font-size: 9.6px; font-family: 'DejaVu Sans', 'Liberation Sans', sans-serif">=0.58</tspan></text>
    </g>
   </g>
   <g id="text_61">
    <g transform="translate(119.35 196.6)">
     <text><tspan x="0.00 6.60 12.50 17.52 23.41 26.09 29.86 32.92" y="-0.41" style="font-size: 9.6px; font-family: 'DejaVu Sans', 'Liberation Sans', sans-serif">Basalt, </tspan><tspan x="35.98" y="-0.41" style="font-style: oblique; font-size: 9.6px; font-family: 'DejaVu Sans', 'Liberation Sans', sans-serif">ϕ</tspan><tspan x="42.33 50.39 56.52 59.58 65.70" y="-0.41" style="font-size: 9.6px; font-family: 'DejaVu Sans', 'Liberation Sans', sans-serif">=0.30</tspan></text>
    </g>
   </g>
   <g id="text_62">
    <text style="font-size: 9.6px; font-family: 'DejaVu Sans', 'Liberation Sans', sans-serif; text-anchor: start" x="119.35" y="211.95" transform="rotate(-0 119.35 211.95)">Basalt + Smectite</text>
   </g>
   <g id="text_63">
    <g transform="translate(119.35 222.65)">
     <text><tspan x="0.00 3.76 9.88 16.00 25.15 28.21 31.27 37.39 43.51 52.66 56.42 59.47" y="-0.41" style="font-size: 9.6px; font-family: 'DejaVu Sans', 'Liberation Sans', sans-serif">(30%, 70%), </tspan><tspan x="62.53" y="-0.41" style="font-style: oblique; font-size: 9.6px; font-family: 'DejaVu Sans', 'Liberation Sans', sans-serif">ϕ</tspan><tspan x="68.88 76.95 83.07 86.13 92.26" y="-0.41" style="font-size: 9.6px; font-family: 'DejaVu Sans', 'Liberation Sans', sans-serif">=0.30</tspan></text>
    </g>
   </g>
   <g id="text_64">
    <text style="font-weight: 700; font-size: 13.44px; font-family: 'DejaVu Sans', 'Liberation Sans', sans-serif; text-anchor: start" x="6.5" y="13.6" transform="rotate(-0 6.5 13.6)">(a)</text>
   </g>
   <g id="text_65">
    <text style="font-size: 11.52px; font-family: 'DejaVu Sans', 'Liberation Sans', sans-serif; text-anchor: start" x="501" y="112.8" transform="rotate(-0 501 112.8)">Basalt + Smectite (30%, 70%)</text>
   </g>
   <g id="text_66">
    <g transform="translate(501 126.4)">
     <text><tspan x="0.00" y="-0.88" style="font-size: 11.52px; font-family: 'DejaVu Sans', 'Liberation Sans', sans-serif">(</tspan><tspan x="4.49 12.52" y="-0.88" style="font-style: oblique; font-size: 11.52px; font-family: 'DejaVu Sans', 'Liberation Sans', sans-serif">CO</tspan><tspan x="21.57" y="1.09" style="font-size: 8.064px; font-family: 'DejaVu Sans', 'Liberation Sans', sans-serif">2</tspan><tspan x="27.02 30.67 40.31 43.96 51.28 54.94 62.25 73.18 76.84 84.38 91.42 98.46 101.66 104.85 112.14 115.33 119.84 126.92" y="-0.88" style="font-size: 11.52px; font-family: 'DejaVu Sans', 'Liberation Sans', sans-serif"> + 0.3% Kaolinite)</tspan></text>
    </g>
   </g>
   <g id="text_67">
    <text style="font-size: 11.52px; font-family: 'DejaVu Sans', 'Liberation Sans', sans-serif; text-anchor: start" x="501" y="143.25" transform="rotate(-0 501 143.25)">Basalt + Smectite (30%, 70%)</text>
   </g>
   <g id="text_68">
    <g transform="translate(501 157.1)">
     <text><tspan x="0.00" y="-0.88" style="font-size: 11.52px; font-family: 'DejaVu Sans', 'Liberation Sans', sans-serif">(</tspan><tspan x="4.49 12.52" y="-0.88" style="font-style: oblique; font-size: 11.52px; font-family: 'DejaVu Sans', 'Liberation Sans', sans-serif">CO</tspan><tspan x="21.57" y="1.09" style="font-size: 8.064px; font-family: 'DejaVu Sans', 'Liberation Sans', sans-serif">2</tspan><tspan x="27.02 30.67 40.31 43.96 51.28 54.94 62.25 73.18 76.84 84.38 91.42 98.46 101.66 104.85 112.14 115.33 119.84 126.92" y="-0.88" style="font-size: 11.52px; font-family: 'DejaVu Sans', 'Liberation Sans', sans-serif"> + 1.0% Kaolinite)</tspan></text>
    </g>
   </g>
   <g id="text_69">
    <text style="font-size: 11.52px; font-family: 'DejaVu Sans', 'Liberation Sans', sans-serif; text-anchor: start" x="501" y="173.8" transform="rotate(-0 501 173.8)">Basalt + Smectite + Halite</text>
   </g>
   <g id="text_70">
    <text style="font-size: 11.52px; font-family: 'DejaVu Sans', 'Liberation Sans', sans-serif; text-anchor: start" x="501" y="186.85" transform="rotate(-0 501 186.85)">(30%, 50%, 20%)</text>
   </g>
   <g id="text_71">
    <g transform="translate(501 200.4)">
     <text><tspan x="0.00" y="-0.88" style="font-size: 11.52px; font-family: 'DejaVu Sans', 'Liberation Sans', sans-serif">(</tspan><tspan x="4.49 12.52" y="-0.88" style="font-style: oblique; font-size: 11.52px; font-family: 'DejaVu Sans', 'Liberation Sans', sans-serif">CO</tspan><tspan x="21.57" y="1.09" style="font-size: 8.064px; font-family: 'DejaVu Sans', 'Liberation Sans', sans-serif">2</tspan><tspan x="27.02 30.67 40.31 43.96 51.28 54.94 62.25 73.18 76.84 84.38 91.42 98.46 101.66 104.85 112.14 115.33 119.84 126.92" y="-0.88" style="font-size: 11.52px; font-family: 'DejaVu Sans', 'Liberation Sans', sans-serif"> + 0.3% Kaolinite)</tspan></text>
    </g>
   </g>
   <g id="text_72">
    <text style="font-weight: 700; font-size: 13.44px; font-family: 'DejaVu Sans', 'Liberation Sans', sans-serif; text-anchor: start" x="238.4" y="9.6" transform="rotate(-0 238.4 9.6)">(b)</text>
   </g>
   <g id="text_73">
    <g transform="translate(496.9 374.7)">
     <text><tspan x="0.00 6.95 13.15 18.43 24.63 27.44 31.41 34.63" y="-0.41" style="font-size: 10.08px; font-family: 'DejaVu Sans', 'Liberation Sans', sans-serif">Basalt (</tspan><tspan x="38.58 45.65" y="-0.41" style="font-style: oblique; font-size: 10.08px; font-family: 'DejaVu Sans', 'Liberation Sans', sans-serif">CO</tspan><tspan x="53.62" y="1.23" style="font-size: 7.056px; font-family: 'DejaVu Sans', 'Liberation Sans', sans-serif">2</tspan><tspan x="58.40 61.62 70.11 73.32 79.77 86.21 89.43 95.87 105.49 108.71 115.35 121.55 127.75 130.56 133.37 139.79 142.60 146.57 152.80" y="-0.41" style="font-size: 10.08px; font-family: 'DejaVu Sans', 'Liberation Sans', sans-serif"> + 10.0% Kaolinite)</tspan></text>
    </g>
   </g>
   <g id="text_74">
    <g transform="translate(496.9 390.62)">
     <text><tspan x="0.00 6.95 13.15 18.43 24.63 27.44 31.41 34.63" y="-0.41" style="font-size: 10.08px; font-family: 'DejaVu Sans', 'Liberation Sans', sans-serif">Basalt (</tspan><tspan x="38.58 45.65" y="-0.41" style="font-style: oblique; font-size: 10.08px; font-family: 'DejaVu Sans', 'Liberation Sans', sans-serif">CO</tspan><tspan x="53.62" y="1.23" style="font-size: 7.056px; font-family: 'DejaVu Sans', 'Liberation Sans', sans-serif">2</tspan><tspan x="58.40 61.62 70.11 73.32 79.77 82.98 89.43 99.05 102.27 108.91 115.11 121.30 124.12 126.93 133.35 136.16 140.13 146.36" y="-0.41" style="font-size: 10.08px; font-family: 'DejaVu Sans', 'Liberation Sans', sans-serif"> + 1.0% Kaolinite)</tspan></text>
    </g>
   </g>
   <g id="text_75">
    <g transform="translate(496.9 406.54)">
     <text><tspan x="0.00 6.95 13.15 18.43 24.63 27.44 31.41 34.63" y="-0.41" style="font-size: 10.08px; font-family: 'DejaVu Sans', 'Liberation Sans', sans-serif">Basalt (</tspan><tspan x="38.58 45.65" y="-0.41" style="font-style: oblique; font-size: 10.08px; font-family: 'DejaVu Sans', 'Liberation Sans', sans-serif">CO</tspan><tspan x="53.62" y="1.23" style="font-size: 7.056px; font-family: 'DejaVu Sans', 'Liberation Sans', sans-serif">2</tspan><tspan x="58.40 61.62 70.11 73.32 79.77 82.98 89.43 99.05 102.27 108.91 115.11 121.30 124.12 126.93 133.35 136.16 140.13 146.36" y="-0.41" style="font-size: 10.08px; font-family: 'DejaVu Sans', 'Liberation Sans', sans-serif"> + 0.1% Kaolinite)</tspan></text>
    </g>
   </g>
   <g id="text_76">
    <g transform="translate(496.9 422.46)">
     <text><tspan x="0.00 6.11 8.92 15.12 21.55 24.36 30.56 36.12 38.94 45.14 50.42 56.65 59.87" y="-0.41" style="font-size: 10.08px; font-family: 'DejaVu Sans', 'Liberation Sans', sans-serif">Plagioclase (</tspan><tspan x="63.82 70.88" y="-0.41" style="font-style: oblique; font-size: 10.08px; font-family: 'DejaVu Sans', 'Liberation Sans', sans-serif">CO</tspan><tspan x="78.85" y="1.23" style="font-size: 7.056px; font-family: 'DejaVu Sans', 'Liberation Sans', sans-serif">2</tspan><tspan x="83.64 86.86 95.34 98.56 105.00 108.22 114.66 124.28 127.50 134.14 140.34 146.54 149.35 152.16 158.58 161.39 165.36 171.59" y="-0.41" style="font-size: 10.08px; font-family: 'DejaVu Sans', 'Liberation Sans', sans-serif"> + 0.1% Kaolinite)</tspan></text>
    </g>
   </g>
   <g id="text_77">
    <g transform="translate(496.9 438.38)">
     <text><tspan x="0.00 7.07 13.27 16.09 21.65 24.47 28.44 34.67 37.88" y="-0.41" style="font-size: 10.08px; font-family: 'DejaVu Sans', 'Liberation Sans', sans-serif">Calcite (</tspan><tspan x="41.83 48.90" y="-0.41" style="font-style: oblique; font-size: 10.08px; font-family: 'DejaVu Sans', 'Liberation Sans', sans-serif">CO</tspan><tspan x="56.87" y="1.23" style="font-size: 7.056px; font-family: 'DejaVu Sans', 'Liberation Sans', sans-serif">2</tspan><tspan x="61.66 64.88 73.36 76.58 83.02 86.24 92.68 102.30 105.52 112.16 118.36 124.56 127.37 130.18 136.60 139.41 143.38 149.61" y="-0.41" style="font-size: 10.08px; font-family: 'DejaVu Sans', 'Liberation Sans', sans-serif"> + 0.1% Kaolinite)</tspan></text>
    </g>
   </g>
   <g id="text_78">
    <g transform="translate(496.9 454.3)">
     <text><tspan x="0.00 7.85 13.84 20.26 25.54 31.96 41.82 45.04" y="-0.41" style="font-size: 10.08px; font-family: 'DejaVu Sans', 'Liberation Sans', sans-serif">Gypsum (</tspan><tspan x="48.99 56.06" y="-0.41" style="font-style: oblique; font-size: 10.08px; font-family: 'DejaVu Sans', 'Liberation Sans', sans-serif">CO</tspan><tspan x="64.03" y="1.23" style="font-size: 7.056px; font-family: 'DejaVu Sans', 'Liberation Sans', sans-serif">2</tspan><tspan x="68.81 72.03 80.51 83.73 90.17 93.39 99.83 109.45 112.67 119.31 125.52 131.71 134.52 137.34 143.75 146.57 150.54 156.77" y="-0.41" style="font-size: 10.08px; font-family: 'DejaVu Sans', 'Liberation Sans', sans-serif"> + 0.1% Kaolinite)</tspan></text>
    </g>
   </g>
   <g id="text_79">
    <g transform="translate(496.9 470.22)">
     <text><tspan x="0.00 7.61 13.82 16.63 19.44 23.41 29.64 32.86" y="-0.41" style="font-size: 10.08px; font-family: 'DejaVu Sans', 'Liberation Sans', sans-serif">Halite (</tspan><tspan x="36.81 43.88" y="-0.41" style="font-style: oblique; font-size: 10.08px; font-family: 'DejaVu Sans', 'Liberation Sans', sans-serif">CO</tspan><tspan x="51.85" y="1.23" style="font-size: 7.056px; font-family: 'DejaVu Sans', 'Liberation Sans', sans-serif">2</tspan><tspan x="56.63 59.85 68.34 71.55 78.00 81.21 87.66 97.28 100.50 107.14 113.34 119.53 122.35 125.16 131.58 134.39 138.36 144.59" y="-0.41" style="font-size: 10.08px; font-family: 'DejaVu Sans', 'Liberation Sans', sans-serif"> + 0.1% Kaolinite)</tspan></text>
    </g>
   </g>
   <g id="text_80">
    <g transform="translate(496.9 486.14)">
     <text><tspan x="0.00 6.43 16.29 22.52 28.09 32.06 34.87 38.84 45.07 48.29" y="-0.41" style="font-size: 10.08px; font-family: 'DejaVu Sans', 'Liberation Sans', sans-serif">Smectite (</tspan><tspan x="52.24 59.31" y="-0.41" style="font-style: oblique; font-size: 10.08px; font-family: 'DejaVu Sans', 'Liberation Sans', sans-serif">CO</tspan><tspan x="67.28" y="1.23" style="font-size: 7.056px; font-family: 'DejaVu Sans', 'Liberation Sans', sans-serif">2</tspan><tspan x="72.06 75.28 83.76 86.98 93.42 96.64 103.08 112.70 115.92 122.56 128.76 134.96 137.77 140.59 147.00 149.82 153.79 160.01" y="-0.41" style="font-size: 10.08px; font-family: 'DejaVu Sans', 'Liberation Sans', sans-serif"> + 1.0% Kaolinite)</tspan></text>
    </g>
   </g>
   <g id="text_81">
    <g transform="translate(496.9 502.06)">
     <text><tspan x="0.00 6.43 16.29 22.52 28.09 32.06 34.87 38.84 45.07 48.29" y="-0.41" style="font-size: 10.08px; font-family: 'DejaVu Sans', 'Liberation Sans', sans-serif">Smectite (</tspan><tspan x="52.24 59.31" y="-0.41" style="font-style: oblique; font-size: 10.08px; font-family: 'DejaVu Sans', 'Liberation Sans', sans-serif">CO</tspan><tspan x="67.28" y="1.23" style="font-size: 7.056px; font-family: 'DejaVu Sans', 'Liberation Sans', sans-serif">2</tspan><tspan x="72.06 75.28 83.76 86.98 93.42 96.64 103.08 112.70 115.92 122.56 128.76 134.96 137.77 140.59 147.00 149.82 153.79 160.01" y="-0.41" style="font-size: 10.08px; font-family: 'DejaVu Sans', 'Liberation Sans', sans-serif"> + 0.1% Kaolinite)</tspan></text>
    </g>
   </g>
   <g id="text_82">
    <text style="font-weight: 700; font-size: 13.44px; font-family: 'DejaVu Sans', 'Liberation Sans', sans-serif; text-anchor: start" x="3.2" y="277.9" transform="rotate(-0 3.2 277.9)">(c)</text>
   </g>
   <g id="text_83">
    <text style="font-size: 10.08px; font-family: 'DejaVu Sans', 'Liberation Sans', sans-serif; text-anchor: start" x="494.4" y="615.85" transform="rotate(-0 494.4 615.85)">Basalt (0.5% cements), AR=0.10</text>
   </g>
   <g id="text_84">
    <text style="font-size: 10.08px; font-family: 'DejaVu Sans', 'Liberation Sans', sans-serif; text-anchor: start" x="494.4" y="631.17" transform="rotate(-0 494.4 631.17)">Basalt (0.5% cements), AR=0.02</text>
   </g>
   <g id="text_85">
    <text style="font-size: 10.08px; font-family: 'DejaVu Sans', 'Liberation Sans', sans-serif; text-anchor: start" x="494.4" y="646.49" transform="rotate(-0 494.4 646.49)">Plagioclase (0.5% cements), AR=0.10</text>
   </g>
   <g id="text_86">
    <text style="font-size: 10.08px; font-family: 'DejaVu Sans', 'Liberation Sans', sans-serif; text-anchor: start" x="494.4" y="661.81" transform="rotate(-0 494.4 661.81)">Plagioclase (0.5% cements), AR=0.02</text>
   </g>
   <g id="text_87">
    <text style="font-size: 10.08px; font-family: 'DejaVu Sans', 'Liberation Sans', sans-serif; text-anchor: start" x="494.4" y="677.13" transform="rotate(-0 494.4 677.13)">Calcite (0.5% cements), AR=0.10</text>
   </g>
   <g id="text_88">
    <text style="font-size: 10.08px; font-family: 'DejaVu Sans', 'Liberation Sans', sans-serif; text-anchor: start" x="494.4" y="692.45" transform="rotate(-0 494.4 692.45)">Calcite (0.5% cements), AR=0.02</text>
   </g>
   <g id="text_89">
    <text style="font-size: 10.08px; font-family: 'DejaVu Sans', 'Liberation Sans', sans-serif; text-anchor: start" x="494.4" y="707.77" transform="rotate(-0 494.4 707.77)">Gypsum (0.5% cements), AR=0.10</text>
   </g>
   <g id="text_90">
    <text style="font-size: 10.08px; font-family: 'DejaVu Sans', 'Liberation Sans', sans-serif; text-anchor: start" x="494.4" y="723.09" transform="rotate(-0 494.4 723.09)">Gypsum (0.5% cements), AR=0.02</text>
   </g>
   <g id="text_91">
    <text style="font-size: 10.08px; font-family: 'DejaVu Sans', 'Liberation Sans', sans-serif; text-anchor: start" x="494.4" y="738.41" transform="rotate(-0 494.4 738.41)">Halite (0.5% cements), AR=0.10</text>
   </g>
   <g id="text_92">
    <text style="font-size: 10.08px; font-family: 'DejaVu Sans', 'Liberation Sans', sans-serif; text-anchor: start" x="494.4" y="753.73" transform="rotate(-0 494.4 753.73)">Halite (0.5% cements), AR=0.02</text>
   </g>
   <g id="text_93">
    <text style="font-size: 10.08px; font-family: 'DejaVu Sans', 'Liberation Sans', sans-serif; text-anchor: start" x="494.4" y="769.05" transform="rotate(-0 494.4 769.05)">Smectite (0.5% cements), AR=0.10</text>
   </g>
   <g id="text_94">
    <text style="font-size: 10.08px; font-family: 'DejaVu Sans', 'Liberation Sans', sans-serif; text-anchor: start" x="494.4" y="784.37" transform="rotate(-0 494.4 784.37)">Smectite (0.5% cements), AR=0.02</text>
   </g>
   <g id="text_95">
    <text style="font-weight: 700; font-size: 13.44px; font-family: 'DejaVu Sans', 'Liberation Sans', sans-serif; text-anchor: start" x="3.2" y="560.7" transform="rotate(-0 3.2 560.7)">(d)</text>
   </g>
   <g id="text_96">
    <text style="font-size: 10.56px; font-family: 'DejaVu Sans', 'Liberation Sans', sans-serif; text-anchor: start" x="105.616" y="284.4" transform="rotate(-0 105.616 284.4)">LML</text>
   </g>
   <g id="text_97">
    <text style="font-size: 10.56px; font-family: 'DejaVu Sans', 'Liberation Sans', sans-serif; text-anchor: start" x="163.030" y="284.4" transform="rotate(-0 163.030 284.4)">TL</text>
   </g>
   <g id="text_98">
    <text style="font-size: 10.56px; font-family: 'DejaVu Sans', 'Liberation Sans', sans-serif; text-anchor: start" x="228.645" y="284.4" transform="rotate(-0 228.645 284.4)">HML2</text>
   </g>
   <g id="text_99">
    <text style="font-size: 10.56px; font-family: 'DejaVu Sans', 'Liberation Sans', sans-serif; text-anchor: start" x="291.062" y="284.4" transform="rotate(-0 291.062 284.4)">CIL</text>
   </g>
   <g id="text_100">
    <text style="font-size: 10.56px; font-family: 'DejaVu Sans', 'Liberation Sans', sans-serif; text-anchor: start" x="314.766" y="284.4" transform="rotate(-0 314.766 284.4)">HML1</text>
   </g>
   <g id="text_101">
    <text style="font-size: 10.56px; font-family: 'DejaVu Sans', 'Liberation Sans', sans-serif; text-anchor: start" x="413.189" y="284.4" transform="rotate(-0 413.189 284.4)">UCL</text>
   </g>
   <g id="text_102">
    <text style="font-size: 10.56px; font-family: 'DejaVu Sans', 'Liberation Sans', sans-serif; text-anchor: start" x="105.616" y="567.2" transform="rotate(-0 105.616 567.2)">LML</text>
   </g>
   <g id="text_103">
    <text style="font-size: 10.56px; font-family: 'DejaVu Sans', 'Liberation Sans', sans-serif; text-anchor: start" x="163.030" y="567.2" transform="rotate(-0 163.030 567.2)">TL</text>
   </g>
   <g id="text_104">
    <text style="font-size: 10.56px; font-family: 'DejaVu Sans', 'Liberation Sans', sans-serif; text-anchor: start" x="228.645" y="567.2" transform="rotate(-0 228.645 567.2)">HML2</text>
   </g>
   <g id="text_105">
    <text style="font-size: 10.56px; font-family: 'DejaVu Sans', 'Liberation Sans', sans-serif; text-anchor: start" x="291.062" y="567.2" transform="rotate(-0 291.062 567.2)">CIL</text>
   </g>
   <g id="text_106">
    <text style="font-size: 10.56px; font-family: 'DejaVu Sans', 'Liberation Sans', sans-serif; text-anchor: start" x="314.766" y="567.2" transform="rotate(-0 314.766 567.2)">HML1</text>
   </g>
   <g id="text_107">
    <text style="font-size: 10.56px; font-family: 'DejaVu Sans', 'Liberation Sans', sans-serif; text-anchor: start" x="413.189" y="567.2" transform="rotate(-0 413.189 567.2)">UCL</text>
   </g>
  </g>
 </g>
 <defs>
  <clipPath id="p435b3e391e">
   <rect x="40.1" y="18.2" width="186.7" height="216"/>
  </clipPath>
  <clipPath id="p7016a4e652">
   <rect x="275.8" y="18.2" width="186.6" height="216"/>
  </clipPath>
  <clipPath id="p56ecee5111">
   <rect x="40.1" y="288.3" width="422.4" height="224.2"/>
  </clipPath>
  <clipPath id="p47bf3613bc">
   <rect x="40.1" y="571.1" width="422.4" height="224.1"/>
  </clipPath>
  <clipPath id="p0e0ab46048">
   <rect x="0" y="0" width="685" height="826"/>
  </clipPath>
 </defs>
</svg>

</body></html>
